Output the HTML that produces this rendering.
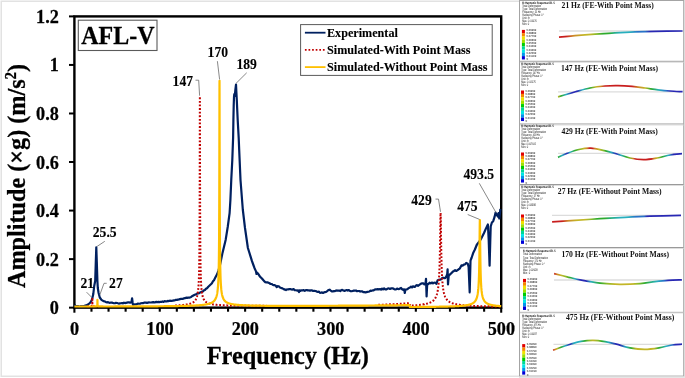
<!DOCTYPE html>
<html><head><meta charset="utf-8"><style>
html,body{margin:0;padding:0;background:#fff;}
body{width:685px;height:378px;overflow:hidden;position:relative;font-family:"Liberation Serif",serif;}
svg{position:absolute;left:0;top:0;will-change:transform;}
</style></head><body>
<svg width="685" height="378" viewBox="0 0 685 378">
<rect x="1.25" y="1.25" width="519" height="375" fill="none" stroke="#e2e2e2" stroke-width="1.5"/>
<rect x="74.40" y="16.40" width="426.80" height="291.25" fill="none" stroke="#000" stroke-width="2.4"/>
<line x1="74.40" y1="307.65" x2="74.40" y2="312.7" stroke="#000" stroke-width="2.1"/>
<line x1="91.47" y1="307.65" x2="91.47" y2="311.7" stroke="#000" stroke-width="2.1"/>
<line x1="108.54" y1="307.65" x2="108.54" y2="311.7" stroke="#000" stroke-width="2.1"/>
<line x1="125.62" y1="307.65" x2="125.62" y2="311.7" stroke="#000" stroke-width="2.1"/>
<line x1="142.69" y1="307.65" x2="142.69" y2="311.7" stroke="#000" stroke-width="2.1"/>
<line x1="159.76" y1="307.65" x2="159.76" y2="311.7" stroke="#000" stroke-width="2.1"/>
<line x1="176.83" y1="307.65" x2="176.83" y2="311.7" stroke="#000" stroke-width="2.1"/>
<line x1="193.90" y1="307.65" x2="193.90" y2="311.7" stroke="#000" stroke-width="2.1"/>
<line x1="210.98" y1="307.65" x2="210.98" y2="311.7" stroke="#000" stroke-width="2.1"/>
<line x1="228.05" y1="307.65" x2="228.05" y2="311.7" stroke="#000" stroke-width="2.1"/>
<line x1="245.12" y1="307.65" x2="245.12" y2="311.7" stroke="#000" stroke-width="2.1"/>
<line x1="262.19" y1="307.65" x2="262.19" y2="311.7" stroke="#000" stroke-width="2.1"/>
<line x1="279.26" y1="307.65" x2="279.26" y2="311.7" stroke="#000" stroke-width="2.1"/>
<line x1="296.34" y1="307.65" x2="296.34" y2="311.7" stroke="#000" stroke-width="2.1"/>
<line x1="313.41" y1="307.65" x2="313.41" y2="311.7" stroke="#000" stroke-width="2.1"/>
<line x1="330.48" y1="307.65" x2="330.48" y2="311.7" stroke="#000" stroke-width="2.1"/>
<line x1="347.55" y1="307.65" x2="347.55" y2="311.7" stroke="#000" stroke-width="2.1"/>
<line x1="364.62" y1="307.65" x2="364.62" y2="311.7" stroke="#000" stroke-width="2.1"/>
<line x1="381.70" y1="307.65" x2="381.70" y2="311.7" stroke="#000" stroke-width="2.1"/>
<line x1="398.77" y1="307.65" x2="398.77" y2="311.7" stroke="#000" stroke-width="2.1"/>
<line x1="415.84" y1="307.65" x2="415.84" y2="311.7" stroke="#000" stroke-width="2.1"/>
<line x1="432.91" y1="307.65" x2="432.91" y2="311.7" stroke="#000" stroke-width="2.1"/>
<line x1="449.98" y1="307.65" x2="449.98" y2="311.7" stroke="#000" stroke-width="2.1"/>
<line x1="467.06" y1="307.65" x2="467.06" y2="311.7" stroke="#000" stroke-width="2.1"/>
<line x1="484.13" y1="307.65" x2="484.13" y2="311.7" stroke="#000" stroke-width="2.1"/>
<line x1="501.20" y1="307.65" x2="501.20" y2="312.7" stroke="#000" stroke-width="2.1"/>
<line x1="69" y1="307.65" x2="74.40" y2="307.65" stroke="#000" stroke-width="2"/>
<line x1="69" y1="259.11" x2="74.40" y2="259.11" stroke="#000" stroke-width="2"/>
<line x1="69" y1="210.57" x2="74.40" y2="210.57" stroke="#000" stroke-width="2"/>
<line x1="69" y1="162.02" x2="74.40" y2="162.02" stroke="#000" stroke-width="2"/>
<line x1="69" y1="113.48" x2="74.40" y2="113.48" stroke="#000" stroke-width="2"/>
<line x1="69" y1="64.94" x2="74.40" y2="64.94" stroke="#000" stroke-width="2"/>
<line x1="69" y1="16.40" x2="74.40" y2="16.40" stroke="#000" stroke-width="2"/>
<text transform="translate(58.80,314.15) scale(1,1.030)" text-anchor="end" font-size="18.20" stroke-width="0.25" font-family="Liberation Serif" font-weight="bold" stroke="#000" >0</text>
<text transform="translate(58.80,265.61) scale(1,1.030)" text-anchor="end" font-size="18.20" stroke-width="0.25" font-family="Liberation Serif" font-weight="bold" stroke="#000" >0.2</text>
<text transform="translate(58.80,217.07) scale(1,1.030)" text-anchor="end" font-size="18.20" stroke-width="0.25" font-family="Liberation Serif" font-weight="bold" stroke="#000" >0.4</text>
<text transform="translate(58.80,168.52) scale(1,1.030)" text-anchor="end" font-size="18.20" stroke-width="0.25" font-family="Liberation Serif" font-weight="bold" stroke="#000" >0.6</text>
<text transform="translate(58.80,119.98) scale(1,1.030)" text-anchor="end" font-size="18.20" stroke-width="0.25" font-family="Liberation Serif" font-weight="bold" stroke="#000" >0.8</text>
<text transform="translate(58.80,71.44) scale(1,1.030)" text-anchor="end" font-size="18.20" stroke-width="0.25" font-family="Liberation Serif" font-weight="bold" stroke="#000" >1</text>
<text transform="translate(58.80,22.90) scale(1,1.030)" text-anchor="end" font-size="18.20" stroke-width="0.25" font-family="Liberation Serif" font-weight="bold" stroke="#000" >1.2</text>
<text transform="translate(74.60,334.60) scale(1,0.985)" text-anchor="middle" font-size="18.20" stroke-width="0.25" font-family="Liberation Serif" font-weight="bold" stroke="#000" >0</text>
<text transform="translate(159.96,334.60) scale(1,0.985)" text-anchor="middle" font-size="18.20" stroke-width="0.25" font-family="Liberation Serif" font-weight="bold" stroke="#000" >100</text>
<text transform="translate(245.32,334.60) scale(1,0.985)" text-anchor="middle" font-size="18.20" stroke-width="0.25" font-family="Liberation Serif" font-weight="bold" stroke="#000" >200</text>
<text transform="translate(330.68,334.60) scale(1,0.985)" text-anchor="middle" font-size="18.20" stroke-width="0.25" font-family="Liberation Serif" font-weight="bold" stroke="#000" >300</text>
<text transform="translate(416.04,334.60) scale(1,0.985)" text-anchor="middle" font-size="18.20" stroke-width="0.25" font-family="Liberation Serif" font-weight="bold" stroke="#000" >400</text>
<text transform="translate(501.40,334.60) scale(1,0.985)" text-anchor="middle" font-size="18.20" stroke-width="0.25" font-family="Liberation Serif" font-weight="bold" stroke="#000" >500</text>
<text transform="translate(287.80,364.10) scale(1,1.055)" text-anchor="middle" font-size="24.30" stroke-width="0.25" font-family="Liberation Serif" font-weight="bold" stroke="#000" >Frequency (Hz)</text>
<text transform="translate(25.4,288.0) rotate(-90) scale(1,1.07)" x="0" y="0" font-size="24.2" stroke-width="0.25" font-family="Liberation Serif" font-weight="bold" stroke="#000">Amplitude (×g) (m/s<tspan font-size="15" dy="-9">2</tspan><tspan dy="9">)</tspan></text>
<rect x="78.3" y="20.2" width="78.7" height="30.3" fill="#fff" stroke="#5a5a5a" stroke-width="1.1"/>
<text transform="translate(81.20,44.20) scale(1,1.045)" text-anchor="start" font-size="24.00" stroke-width="0.25" font-family="Liberation Serif" font-weight="bold" stroke="#000" >AFL-V</text>
<path d="M74.50,304.80 L76.00,306.20 L77.00,306.15 L78.00,306.11 L79.00,306.53 L80.00,306.50 L81.00,306.10 L82.00,306.33 L83.00,306.11 L84.00,306.10 L86.00,305.40 L88.00,304.40 L89.50,303.30 L90.50,302.40 L92.00,299.50 L93.30,294.00 L94.20,286.00 L94.70,283.50 L95.20,281.00 L95.80,262.00 L96.30,247.40 L96.80,262.00 L97.40,281.00 L97.80,288.00 L98.60,293.00 L99.80,297.50 L101.50,299.80 L103.50,301.20 L104.75,301.39 L106.00,302.20 L107.00,302.36 L108.00,302.18 L109.00,302.60 L110.00,302.80 L111.00,302.56 L112.00,302.63 L113.00,302.93 L114.00,303.27 L115.00,303.10 L116.00,302.88 L117.00,302.99 L118.00,303.31 L119.00,303.57 L120.00,303.30 L121.00,303.27 L122.00,303.06 L123.00,303.38 L124.00,302.65 L125.00,303.13 L126.00,302.80 L127.00,302.60 L128.00,302.45 L129.00,302.38 L130.00,302.60 L131.40,302.40 L132.10,298.30 L132.60,302.50 L133.00,304.80 L134.00,304.60 L135.00,304.27 L136.00,304.42 L137.00,304.00 L138.00,303.62 L139.00,303.74 L140.00,303.62 L141.00,303.27 L142.00,303.20 L143.00,303.15 L144.00,302.72 L145.00,302.63 L146.00,302.64 L147.00,302.89 L148.00,302.62 L149.00,302.46 L150.00,302.50 L151.05,302.49 L152.10,302.33 L153.15,302.15 L154.20,302.43 L155.25,302.29 L156.30,301.90 L157.35,302.06 L158.40,301.96 L159.45,302.13 L160.50,301.80 L161.53,301.87 L162.56,301.47 L163.59,301.87 L164.62,301.17 L165.65,301.29 L166.68,301.44 L167.71,300.93 L168.74,301.07 L169.77,300.67 L170.80,300.90 L171.82,300.82 L172.84,300.69 L173.86,300.35 L174.88,300.36 L175.90,299.77 L176.92,299.84 L177.94,299.57 L178.96,299.36 L179.98,299.07 L181.00,298.90 L182.02,298.94 L183.04,298.81 L184.06,298.28 L185.08,298.21 L186.10,297.59 L187.12,297.84 L188.14,297.60 L189.16,297.65 L190.18,297.33 L191.20,296.90 L192.47,295.98 L193.73,295.29 L195.00,294.60 L196.00,294.37 L197.00,293.57 L198.00,293.52 L199.00,293.20 L200.30,292.37 L201.60,291.73 L202.90,291.40 L203.93,290.32 L204.95,290.04 L205.97,288.82 L207.00,288.30 L208.30,286.79 L209.60,285.56 L210.90,284.30 L211.93,283.19 L212.97,281.27 L214.00,280.20 L215.07,278.10 L216.13,276.10 L217.20,274.00 L218.50,270.32 L219.80,266.10 L222.50,252.90 L225.70,239.70 L227.80,226.50 L229.60,213.20 L230.40,200.00 L231.30,179.00 L232.30,160.00 L233.10,138.00 L233.40,120.00 L233.70,106.00 L234.00,97.00 L234.30,94.00 L234.80,96.00 L235.30,90.50 L236.00,84.60 L236.40,92.50 L236.80,100.00 L237.10,107.00 L237.70,120.00 L238.70,138.00 L239.20,150.00 L240.50,180.00 L242.80,209.50 L245.00,228.00 L247.90,248.00 L250.60,256.60 L251.90,260.93 L253.20,264.50 L254.55,268.24 L255.90,271.10 L256.50,274.00 L257.00,272.50 L258.40,274.18 L259.80,276.40 L260.87,277.43 L261.93,278.50 L263.00,279.80 L264.13,281.13 L265.27,282.08 L266.40,282.40 L267.45,282.38 L268.50,282.81 L269.55,283.28 L270.60,284.00 L271.62,284.02 L272.64,284.66 L273.66,285.13 L274.68,285.08 L275.70,285.70 L276.70,287.20 L277.50,286.20 L278.75,286.25 L280.00,287.50 L281.23,287.93 L282.45,288.39 L283.67,289.15 L284.90,289.60 L285.95,290.04 L287.00,289.40 L288.07,289.50 L289.13,289.15 L290.20,289.00 L291.33,289.33 L292.46,289.58 L293.59,289.02 L294.71,290.22 L295.84,290.26 L296.97,290.56 L298.10,290.30 L299.00,292.00 L299.60,290.40 L300.64,290.80 L301.68,290.36 L302.72,290.42 L303.75,290.11 L304.79,290.79 L305.83,290.15 L306.87,290.20 L307.91,290.42 L308.95,290.41 L309.98,290.67 L311.02,290.37 L312.06,290.35 L313.10,291.00 L314.33,290.83 L315.55,291.02 L316.77,291.59 L318.00,292.00 L319.00,291.63 L320.00,292.85 L321.00,292.74 L322.00,292.38 L323.00,293.00 L324.00,292.37 L325.00,292.15 L326.00,292.00 L327.20,291.07 L328.40,290.01 L329.60,289.70 L330.70,290.65 L331.80,291.36 L332.90,291.30 L333.95,291.17 L335.00,291.10 L336.05,290.53 L337.10,290.46 L338.15,290.66 L339.20,290.48 L340.25,291.06 L341.30,290.17 L342.35,289.92 L343.40,290.40 L344.45,290.98 L345.49,290.51 L346.54,290.10 L347.59,290.61 L348.63,290.03 L349.68,290.67 L350.73,291.25 L351.77,291.16 L352.82,291.00 L353.87,290.51 L354.91,290.68 L355.96,290.48 L357.01,291.25 L358.05,291.00 L359.10,291.00 L360.16,291.55 L361.22,291.24 L362.28,291.33 L363.34,292.25 L364.40,292.10 L365.42,292.49 L366.44,292.15 L367.47,291.90 L368.49,291.73 L369.51,291.44 L370.53,290.64 L371.56,290.80 L372.58,290.42 L373.60,290.40 L374.67,289.60 L375.73,289.37 L376.80,289.44 L377.87,289.18 L378.93,289.46 L380.00,289.00 L381.02,289.67 L382.05,288.61 L383.08,289.34 L384.10,288.40 L385.28,289.40 L386.46,289.46 L387.64,288.52 L388.82,288.38 L390.00,289.00 L391.00,288.46 L392.00,288.35 L393.00,288.32 L394.00,289.02 L395.00,289.47 L396.00,289.31 L397.00,288.61 L398.00,288.88 L399.00,289.09 L400.00,288.50 L401.05,287.95 L402.10,289.19 L403.15,289.84 L404.20,289.30 L404.80,293.00 L405.40,289.50 L406.55,289.51 L407.70,288.95 L408.85,287.96 L410.00,287.50 L411.00,286.61 L412.00,287.40 L413.00,286.27 L414.00,286.80 L415.00,286.80 L416.00,285.45 L417.00,285.15 L418.00,285.82 L419.00,285.11 L420.00,284.40 L421.10,283.63 L422.20,283.37 L423.30,283.23 L424.40,284.41 L425.50,283.50 L426.00,278.90 L426.60,296.50 L427.20,284.00 L428.40,284.18 L429.60,282.61 L430.80,283.46 L432.00,282.50 L433.00,283.36 L434.00,282.78 L435.00,282.50 L436.50,283.80 L437.50,280.50 L438.75,279.83 L440.00,279.70 L441.00,279.39 L442.00,278.24 L443.00,277.63 L444.00,278.10 L445.15,278.15 L446.30,276.50 L447.20,274.00 L447.60,269.40 L448.00,284.40 L448.70,275.70 L450.30,274.10 L451.50,273.17 L452.70,271.70 L453.90,271.00 L455.10,270.20 L456.30,270.98 L457.50,270.20 L458.65,269.28 L459.80,268.60 L461.40,265.40 L462.60,265.67 L463.80,264.60 L465.00,264.39 L466.20,263.00 L467.80,263.80 L468.60,267.00 L469.70,292.40 L470.50,260.60 L471.70,257.50 L473.30,252.70 L474.90,249.50 L476.70,245.00 L478.60,242.30 L480.60,239.70 L482.00,237.00 L484.00,233.00 L486.00,228.40 L487.90,224.50 L488.70,240.00 L489.60,265.70 L490.30,240.00 L490.70,226.50 L491.90,222.50 L493.20,221.20 L494.50,217.20 L495.60,212.60 L496.50,214.50 L497.80,216.50 L498.50,213.20 L499.30,218.50 L500.40,209.00" fill="none" stroke="#002060" stroke-width="2.2" stroke-linejoin="round"/>
<path d="M87.20,306.33 L87.21,306.33 L87.28,306.33 L87.34,306.33 L87.40,306.33 L87.47,306.33 L87.53,306.33 L87.59,306.33 L87.63,306.33 L87.65,306.33 L87.72,306.33 L87.78,306.33 L87.84,306.33 L87.90,306.33 L87.96,306.32 L88.02,306.32 L88.06,306.32 L88.08,306.32 L88.14,306.32 L88.19,306.32 L88.25,306.32 L88.31,306.32 L88.37,306.32 L88.42,306.32 L88.48,306.32 L88.48,306.32 L88.54,306.32 L88.59,306.32 L88.65,306.31 L88.70,306.31 L88.76,306.31 L88.81,306.31 L88.86,306.31 L88.91,306.31 L88.92,306.31 L88.97,306.31 L89.02,306.31 L89.07,306.31 L89.12,306.30 L89.18,306.30 L89.23,306.30 L89.28,306.30 L89.33,306.30 L89.34,306.30 L89.38,306.30 L89.42,306.30 L89.47,306.30 L89.52,306.29 L89.57,306.29 L89.62,306.29 L89.66,306.29 L89.71,306.29 L89.76,306.29 L89.76,306.29 L89.80,306.29 L89.85,306.28 L89.89,306.28 L89.94,306.28 L89.98,306.28 L90.02,306.28 L90.07,306.27 L90.11,306.27 L90.15,306.27 L90.19,306.27 L90.19,306.27 L90.24,306.27 L90.28,306.26 L90.32,306.26 L90.36,306.26 L90.40,306.26 L90.44,306.25 L90.48,306.25 L90.52,306.25 L90.55,306.25 L90.59,306.24 L90.62,306.24 L90.63,306.24 L90.67,306.24 L90.70,306.23 L90.74,306.23 L90.77,306.23 L90.81,306.23 L90.85,306.22 L90.88,306.22 L90.91,306.21 L90.95,306.21 L90.98,306.21 L91.01,306.20 L91.05,306.20 L91.05,306.20 L91.08,306.19 L91.11,306.19 L91.14,306.18 L91.17,306.18 L91.20,306.17 L91.23,306.17 L91.26,306.16 L91.29,306.16 L91.32,306.15 L91.35,306.14 L91.38,306.14 L91.41,306.13 L91.43,306.12 L91.46,306.11 L91.47,306.11 L91.49,306.11 L91.51,306.10 L91.54,306.09 L91.56,306.08 L91.59,306.07 L91.61,306.06 L91.64,306.05 L91.66,306.04 L91.68,306.02 L91.71,306.01 L91.73,306.00 L91.75,305.98 L91.77,305.97 L91.79,305.95 L91.81,305.94 L91.83,305.92 L91.85,305.90 L91.87,305.88 L91.89,305.86 L91.90,305.85 L91.91,305.83 L91.93,305.81 L91.95,305.78 L91.96,305.75 L91.98,305.72 L92.00,305.69 L92.01,305.66 L92.03,305.62 L92.05,305.58 L92.06,305.53 L92.07,305.48 L92.09,305.43 L92.10,305.37 L92.12,305.31 L92.13,305.24 L92.14,305.17 L92.15,305.09 L92.16,305.00 L92.18,304.89 L92.19,304.78 L92.20,304.66 L92.21,304.52 L92.22,304.36 L92.23,304.19 L92.24,303.99 L92.24,303.77 L92.25,303.51 L92.26,303.23 L92.27,302.91 L92.27,302.54 L92.28,302.13 L92.29,301.67 L92.29,301.18 L92.30,300.65 L92.30,300.09 L92.31,299.55 L92.31,299.04 L92.31,298.60 L92.32,298.25 L92.32,297.98 L92.32,297.81 L92.32,297.71 L92.32,297.66 L92.32,297.64 L92.33,297.64 L92.33,297.64 L92.33,297.64 L92.33,297.64 L92.33,297.66 L92.33,297.71 L92.33,297.81 L92.33,297.98 L92.34,298.25 L92.34,298.60 L92.34,299.04 L92.35,299.56 L92.35,300.10 L92.36,300.66 L92.36,301.19 L92.37,301.68 L92.37,302.14 L92.38,302.55 L92.38,302.91 L92.39,303.24 L92.40,303.52 L92.41,303.78 L92.42,304.00 L92.42,304.20 L92.43,304.37 L92.44,304.53 L92.45,304.67 L92.46,304.79 L92.47,304.91 L92.49,305.01 L92.50,305.10 L92.51,305.18 L92.52,305.26 L92.54,305.32 L92.55,305.39 L92.56,305.44 L92.58,305.50 L92.59,305.54 L92.61,305.59 L92.62,305.63 L92.64,305.67 L92.65,305.70 L92.67,305.73 L92.69,305.76 L92.70,305.79 L92.72,305.82 L92.74,305.84 L92.75,305.86 L92.76,305.87 L92.78,305.89 L92.80,305.91 L92.82,305.93 L92.84,305.95 L92.86,305.96 L92.88,305.98 L92.90,305.99 L92.92,306.01 L92.95,306.02 L92.97,306.03 L92.99,306.05 L93.01,306.06 L93.04,306.07 L93.06,306.08 L93.09,306.09 L93.11,306.10 L93.14,306.11 L93.16,306.12 L93.18,306.12 L93.19,306.12 L93.22,306.13 L93.25,306.14 L93.27,306.15 L93.30,306.15 L93.33,306.16 L93.36,306.16 L93.39,306.17 L93.42,306.18 L93.45,306.18 L93.48,306.19 L93.51,306.19 L93.54,306.20 L93.57,306.20 L93.60,306.21 L93.61,306.21 L93.64,306.21 L93.67,306.21 L93.70,306.22 L93.74,306.22 L93.77,306.23 L93.81,306.23 L93.84,306.23 L93.88,306.24 L93.91,306.24 L93.95,306.24 L93.98,306.25 L94.02,306.25 L94.03,306.25 L94.06,306.25 L94.10,306.25 L94.14,306.26 L94.17,306.26 L94.21,306.26 L94.25,306.26 L94.29,306.27 L94.33,306.27 L94.37,306.27 L94.42,306.27 L94.46,306.27 L94.46,306.27 L94.50,306.28 L94.54,306.28 L94.58,306.28 L94.63,306.28 L94.67,306.28 L94.72,306.29 L94.76,306.29 L94.80,306.29 L94.85,306.29 L94.89,306.29 L94.90,306.29 L94.94,306.29 L94.99,306.29 L95.03,306.30 L95.08,306.30 L95.13,306.30 L95.18,306.30 L95.23,306.30 L95.28,306.30 L95.31,306.30 L95.32,306.30 L95.37,306.30 L95.43,306.31 L95.48,306.31 L95.53,306.31 L95.58,306.31 L95.63,306.31 L95.68,306.31 L95.73,306.31 L95.74,306.31 L95.79,306.31 L95.84,306.31 L95.90,306.31 L95.95,306.31 L96.00,306.32 L96.06,306.32 L96.11,306.32 L96.17,306.32 L96.17,306.32 L96.23,306.32 L96.28,306.32 L96.34,306.32 L96.40,306.32 L96.46,306.32 L96.51,306.32 L96.57,306.32 L96.59,306.32 L96.63,306.32 L96.69,306.32 L96.75,306.32 L96.81,306.32 L96.87,306.33 L96.94,306.33 L97.00,306.33 L97.02,306.33 L97.06,306.33 L97.12,306.33 L97.18,306.33 L97.25,306.33 L97.31,306.33 L97.38,306.33 L97.44,306.33 L97.45,306.33 L97.50,306.33 L97.57,306.33 L97.64,306.33 L97.70,306.33 L97.77,306.33 L97.84,306.33 L97.87,306.33 L97.90,306.33 L97.97,306.33 L98.04,306.33 L98.11,306.33 L98.18,306.33 L98.25,306.33 L98.30,306.33 L98.32,306.33 L98.39,306.33 L98.46,306.33 L98.53,306.34 L98.60,306.34 L98.67,306.34 L98.73,306.34 L98.74,306.34 L98.82,306.34 L98.89,306.34 L98.96,306.34 L99.04,306.34 L99.11,306.34 L99.15,306.34 L99.19,306.34 L99.26,306.34 L99.34,306.34 L99.41,306.34 L99.49,306.34 L99.57,306.34 L99.58,306.34 L99.64,306.34 L99.72,306.34 L99.80,306.34 L99.88,306.34 L99.96,306.34 L100.01,306.34 M175.12,305.50 L175.21,305.50 L175.35,305.49 L175.50,305.48 L175.55,305.48 L175.64,305.48 L175.78,305.47 L175.92,305.46 L175.98,305.46 L176.06,305.46 L176.20,305.45 L176.34,305.44 L176.41,305.44 L176.47,305.43 L176.61,305.43 L176.75,305.42 L176.83,305.42 L176.89,305.41 L177.03,305.41 L177.16,305.40 L177.26,305.39 L177.30,305.39 L177.43,305.38 L177.57,305.37 L177.69,305.37 L177.70,305.37 L177.84,305.36 L177.97,305.35 L178.11,305.34 L178.11,305.34 L178.24,305.33 L178.37,305.33 L178.51,305.32 L178.54,305.32 L178.64,305.31 L178.77,305.30 L178.90,305.29 L178.97,305.29 L179.03,305.28 L179.16,305.27 L179.29,305.27 L179.39,305.26 L179.42,305.26 L179.55,305.25 L179.68,305.24 L179.81,305.23 L179.82,305.23 L179.94,305.22 L180.06,305.21 L180.19,305.20 L180.25,305.20 L180.32,305.19 L180.44,305.18 L180.57,305.17 L180.67,305.17 L180.70,305.16 L180.82,305.15 L180.95,305.14 L181.07,305.13 L181.10,305.13 L181.19,305.12 L181.32,305.11 L181.44,305.10 L181.53,305.10 L181.56,305.09 L181.69,305.08 L181.81,305.07 L181.93,305.06 L181.95,305.06 L182.05,305.05 L182.17,305.04 L182.29,305.03 L182.38,305.02 L182.41,305.02 L182.53,305.00 L182.65,304.99 L182.77,304.98 L182.81,304.98 L182.89,304.97 L183.00,304.96 L183.12,304.95 L183.23,304.93 L183.24,304.93 L183.36,304.92 L183.47,304.91 L183.59,304.90 L183.66,304.89 L183.70,304.88 L183.82,304.87 L183.93,304.86 L184.05,304.85 L184.09,304.84 L184.16,304.83 L184.27,304.82 L184.39,304.81 L184.50,304.79 L184.51,304.79 L184.61,304.78 L184.72,304.76 L184.83,304.75 L184.94,304.74 L184.94,304.74 L185.06,304.72 L185.17,304.71 L185.27,304.69 L185.37,304.68 L185.38,304.68 L185.49,304.66 L185.60,304.65 L185.71,304.63 L185.79,304.62 L185.82,304.62 L185.92,304.60 L186.03,304.59 L186.14,304.57 L186.22,304.56 L186.24,304.55 L186.35,304.54 L186.45,304.52 L186.56,304.50 L186.65,304.49 L186.66,304.49 L186.77,304.47 L186.87,304.45 L186.97,304.43 L187.08,304.42 L187.18,304.40 L187.28,304.38 L187.38,304.36 L187.48,304.34 L187.50,304.34 L187.58,304.32 L187.68,304.30 L187.78,304.28 L187.88,304.26 L187.93,304.26 L187.98,304.24 L188.08,304.22 L188.18,304.20 L188.27,304.18 L188.36,304.17 L188.37,304.16 L188.47,304.14 L188.57,304.12 L188.66,304.10 L188.76,304.08 L188.78,304.07 L188.85,304.05 L188.95,304.03 L189.04,304.01 L189.14,303.98 L189.21,303.97 L189.23,303.96 L189.32,303.94 L189.42,303.91 L189.51,303.89 L189.60,303.86 L189.64,303.85 L189.69,303.84 L189.78,303.81 L189.87,303.79 L189.96,303.76 L190.05,303.73 L190.06,303.73 L190.14,303.71 L190.23,303.68 L190.32,303.65 L190.41,303.62 L190.49,303.60 L190.50,303.60 L190.58,303.57 L190.67,303.54 L190.76,303.51 L190.84,303.48 L190.92,303.45 L190.93,303.45 L191.02,303.42 L191.10,303.39 L191.19,303.35 L191.27,303.32 L191.34,303.29 L191.35,303.29 L191.44,303.26 L191.52,303.22 L191.60,303.19 L191.68,303.15 L191.77,303.12 L191.77,303.12 L191.85,303.08 L191.93,303.05 L192.01,303.01 L192.09,302.97 L192.17,302.93 L192.20,302.92 L192.25,302.89 L192.33,302.85 L192.41,302.81 L192.48,302.77 L192.56,302.73 L192.62,302.70 L192.64,302.69 L192.72,302.65 L192.79,302.61 L192.87,302.56 L192.94,302.52 L193.02,302.47 L193.05,302.45 L193.09,302.43 L193.17,302.38 L193.24,302.33 L193.32,302.28 L193.39,302.23 L193.46,302.18 L193.48,302.17 L193.53,302.13 L193.61,302.08 L193.68,302.03 L193.75,301.97 L193.82,301.92 L193.89,301.86 L193.90,301.85 L193.96,301.81 L194.03,301.75 L194.10,301.69 L194.17,301.63 L194.23,301.56 L194.30,301.50 L194.33,301.47 L194.37,301.43 L194.44,301.37 L194.50,301.30 L194.57,301.23 L194.63,301.16 L194.70,301.09 L194.76,301.03 L194.76,301.02 L194.83,300.95 L194.89,300.87 L194.96,300.80 L195.02,300.72 L195.08,300.64 L195.15,300.56 L195.18,300.51 L195.21,300.48 L195.27,300.40 L195.33,300.31 L195.39,300.22 L195.45,300.14 L195.51,300.04 L195.57,299.95 L195.61,299.89 L195.63,299.86 L195.69,299.76 L195.75,299.66 L195.81,299.56 L195.86,299.46 L195.92,299.36 L195.98,299.25 L196.03,299.14 L196.04,299.13 L196.09,299.03 L196.15,298.92 L196.20,298.80 L196.26,298.68 L196.31,298.56 L196.36,298.44 L196.42,298.31 L196.46,298.19 L196.47,298.18 L196.52,298.05 L196.57,297.91 L196.63,297.77 L196.68,297.63 L196.73,297.48 L196.78,297.33 L196.83,297.18 L196.88,297.02 L196.89,296.98 L196.93,296.86 L196.98,296.70 L197.03,296.53 L197.07,296.35 L197.12,296.17 L197.17,295.99 L197.22,295.81 L197.26,295.61 L197.31,295.42 L197.32,295.38 L197.36,295.21 L197.40,295.01 L197.45,294.79 L197.49,294.57 L197.53,294.35 L197.58,294.12 L197.62,293.88 L197.66,293.63 L197.71,293.38 L197.75,293.14 L197.75,293.12 L197.79,292.85 L197.83,292.58 L197.87,292.29 L197.91,292.00 L197.95,291.70 L197.99,291.39 L198.03,291.07 L198.07,290.74 L198.11,290.40 L198.15,290.05 L198.17,289.79 L198.18,289.68 L198.22,289.31 L198.26,288.92 L198.29,288.52 L198.33,288.11 L198.36,287.68 L198.40,287.23 L198.43,286.77 L198.47,286.30 L198.50,285.81 L198.54,285.29 L198.57,284.77 L198.60,284.25 L198.60,284.22 L198.63,283.65 L198.66,283.05 L198.70,282.44 L198.73,281.80 L198.76,281.14 L198.79,280.45 L198.82,279.73 L198.85,278.98 L198.88,278.20 L198.90,277.39 L198.93,276.54 L198.96,275.66 L198.99,274.73 L199.01,273.77 L199.03,273.33 L199.04,272.77 L199.07,271.72 L199.09,270.62 L199.12,269.46 L199.14,268.26 L199.17,266.99 L199.19,265.67 L199.21,264.29 L199.24,262.82 L199.26,261.29 L199.28,259.68 L199.30,258.00 L199.33,256.22 L199.35,254.34 L199.37,252.37 L199.39,250.30 L199.41,248.12 L199.43,245.81 L199.45,243.37 L199.45,242.47 L199.46,240.81 L199.48,238.10 L199.50,235.25 L199.52,232.24 L199.53,229.05 L199.55,225.70 L199.57,222.16 L199.58,218.45 L199.60,214.53 L199.61,210.39 L199.63,206.08 L199.64,201.54 L199.66,196.83 L199.67,191.90 L199.68,186.74 L199.69,181.46 L199.71,175.99 L199.72,170.43 L199.73,164.75 L199.74,158.98 L199.75,153.25 L199.76,147.53 L199.77,141.97 L199.78,136.53 L199.79,131.28 L199.80,126.38 L199.81,121.77 L199.81,117.59 L199.82,113.79 L199.83,110.39 L199.83,107.47 L199.84,104.96 L199.84,102.89 L199.85,101.19 L199.85,99.81 L199.86,98.76 L199.86,97.97 L199.87,97.40 L199.87,97.01 L199.87,96.74 L199.87,96.58 L199.88,96.50 L199.88,96.46 L199.88,96.44 L199.88,96.44 L199.88,96.44 L199.88,96.44 L199.88,96.44 L199.88,96.46 L199.88,96.50 L199.88,96.58 L199.89,96.74 L199.89,97.01 L199.89,97.40 L199.90,97.96 L199.90,98.76 L199.90,99.81 L199.91,101.19 L199.91,102.89 L199.92,104.96 L199.93,107.48 L199.93,110.39 L199.94,113.80 L199.95,117.61 L199.95,121.79 L199.96,126.40 L199.97,131.32 L199.98,136.58 L199.99,142.02 L200.00,147.59 L200.01,153.32 L200.02,159.06 L200.03,164.84 L200.04,170.53 L200.05,176.09 L200.06,181.57 L200.08,186.86 L200.09,192.02 L200.10,196.96 L200.12,201.68 L200.13,206.23 L200.14,210.54 L200.16,214.69 L200.18,218.61 L200.19,222.32 L200.21,225.87 L200.22,229.22 L200.24,232.41 L200.26,235.43 L200.28,238.28 L200.29,240.99 L200.31,242.66 L200.31,243.55 L200.33,245.99 L200.35,248.30 L200.37,250.48 L200.39,252.56 L200.41,254.53 L200.43,256.41 L200.45,258.19 L200.48,259.87 L200.50,261.49 L200.52,263.01 L200.54,264.48 L200.57,265.87 L200.59,267.19 L200.62,268.45 L200.64,269.65 L200.67,270.81 L200.69,271.91 L200.72,272.96 L200.73,273.52 L200.74,273.96 L200.77,274.92 L200.80,275.85 L200.83,276.73 L200.85,277.57 L200.88,278.39 L200.91,279.16 L200.94,279.91 L200.97,280.63 L201.00,281.32 L201.03,281.98 L201.06,282.62 L201.09,283.24 L201.13,283.83 L201.16,284.39 L201.16,284.43 L201.19,284.94 L201.22,285.47 L201.26,285.98 L201.29,286.47 L201.32,286.95 L201.36,287.41 L201.39,287.85 L201.43,288.28 L201.47,288.69 L201.50,289.09 L201.54,289.48 L201.58,289.85 L201.59,289.96 L201.61,290.21 L201.65,290.56 L201.69,290.90 L201.73,291.23 L201.77,291.55 L201.81,291.86 L201.85,292.16 L201.89,292.45 L201.93,292.73 L201.97,293.01 L202.01,293.27 L202.01,293.29 L202.05,293.53 L202.09,293.78 L202.14,294.02 L202.18,294.26 L202.22,294.49 L202.27,294.72 L202.31,294.93 L202.36,295.15 L202.40,295.35 L202.44,295.51 L202.45,295.55 L202.50,295.75 L202.54,295.94 L202.59,296.12 L202.64,296.30 L202.68,296.48 L202.73,296.65 L202.78,296.82 L202.83,296.98 L202.87,297.10 L202.88,297.14 L202.93,297.30 L202.98,297.45 L203.03,297.60 L203.08,297.74 L203.13,297.88 L203.18,298.02 L203.24,298.15 L203.29,298.29 L203.29,298.30 L203.34,298.41 L203.39,298.54 L203.45,298.66 L203.50,298.78 L203.56,298.90 L203.61,299.01 L203.67,299.12 L203.72,299.23 L203.72,299.23 L203.78,299.34 L203.84,299.44 L203.89,299.55 L203.95,299.65 L204.01,299.75 L204.07,299.84 L204.13,299.94 L204.15,299.97 L204.19,300.03 L204.25,300.12 L204.31,300.21 L204.37,300.29 L204.43,300.38 L204.49,300.46 L204.55,300.54 L204.57,300.57 L204.61,300.62 L204.67,300.70 L204.74,300.78 L204.80,300.85 L204.86,300.93 L204.93,301.00 L204.99,301.07 L205.00,301.08 L205.06,301.14 L205.12,301.21 L205.19,301.27 L205.26,301.34 L205.32,301.40 L205.39,301.47 L205.43,301.50 L205.46,301.53 L205.52,301.59 L205.59,301.65 L205.66,301.71 L205.73,301.77 L205.80,301.82 L205.85,301.87 L205.87,301.88 L205.94,301.93 L206.01,301.99 L206.08,302.04 L206.15,302.09 L206.23,302.14 L206.28,302.18 L206.30,302.19 L206.37,302.24 L206.44,302.29 L206.52,302.34 L206.59,302.39 L206.67,302.43 L206.71,302.46 L206.74,302.48 L206.82,302.52 L206.89,302.57 L206.97,302.61 L207.04,302.65 L207.12,302.69 L207.13,302.70 L207.20,302.73 L207.27,302.77 L207.35,302.81 L207.43,302.85 L207.51,302.89 L207.56,302.92 L207.59,302.93 L207.67,302.97 L207.75,303.00 L207.83,303.04 L207.91,303.07 L207.99,303.11 L207.99,303.11 L208.07,303.14 L208.16,303.18 L208.24,303.21 L208.32,303.24 L208.40,303.28 L208.42,303.28 L208.49,303.31 L208.57,303.34 L208.66,303.37 L208.74,303.40 L208.83,303.43 L208.84,303.44 L208.91,303.46 L209.00,303.49 L209.09,303.52 L209.17,303.55 L209.26,303.57 L209.27,303.58 L209.35,303.60 L209.44,303.63 L209.53,303.65 L209.62,303.68 L209.70,303.70 L209.70,303.71 L209.79,303.73 L209.88,303.76 L209.98,303.78 L210.07,303.81 L210.12,303.82 L210.16,303.83 L210.25,303.85 L210.34,303.88 L210.44,303.90 L210.53,303.92 L210.55,303.93 L210.62,303.95 L210.72,303.97 L210.81,303.99 L210.91,304.01 L210.98,304.03 L211.00,304.03 L211.10,304.05 L211.19,304.07 L211.29,304.09 L211.39,304.12 L211.40,304.12 L211.48,304.13 L211.58,304.15 L211.68,304.17 L211.78,304.19 L211.83,304.20 L211.88,304.21 L211.98,304.23 L212.08,304.25 L212.18,304.27 L212.26,304.28 L212.28,304.28 L212.38,304.30 L212.48,304.32 L212.58,304.34 L212.68,304.35 L212.79,304.37 L212.89,304.39 L212.99,304.40 L213.10,304.42 L213.11,304.42 L213.20,304.43 L213.31,304.45 L213.41,304.47 L213.52,304.48 L213.54,304.48 L213.62,304.50 L213.73,304.51 L213.83,304.53 L213.94,304.54 L213.96,304.54 L214.05,304.55 L214.16,304.57 L214.27,304.58 L214.37,304.60 L214.39,304.60 L214.48,304.61 L214.59,304.62 L214.70,304.64 L214.81,304.65 L214.82,304.65 L214.92,304.66 L215.04,304.68 L215.15,304.69 L215.24,304.70 L215.26,304.70 L215.37,304.71 L215.48,304.72 L215.60,304.74 L215.67,304.74 L215.71,304.75 L215.83,304.76 L215.94,304.77 L216.06,304.78 L216.10,304.79 L216.17,304.79 L216.29,304.81 L216.40,304.82 L216.52,304.83 L216.52,304.83 L216.64,304.84 L216.75,304.85 L216.87,304.86 L216.95,304.87 L216.99,304.87 L217.11,304.88 L217.23,304.89 L217.35,304.90 L217.38,304.90 L217.47,304.91 L217.59,304.92 L217.71,304.93 L217.80,304.94 L217.83,304.94 L217.95,304.95 L218.07,304.96 L218.19,304.97 L218.23,304.97 L218.32,304.98 L218.44,304.98 L218.56,304.99 L218.66,305.00 L218.69,305.00 L218.81,305.01 L218.94,305.02 L219.06,305.03 L219.09,305.03 L219.19,305.04 L219.31,305.04 L219.44,305.05 L219.51,305.06 L219.57,305.06 L219.69,305.07 L219.82,305.08 L219.94,305.08 L219.95,305.08 L220.08,305.09 L220.21,305.10 L220.34,305.11 L220.37,305.11 L220.47,305.11 L220.60,305.12 L220.73,305.13 L220.79,305.13 L220.86,305.14 L220.99,305.14 L221.12,305.15 L221.22,305.16 L221.25,305.16 L221.38,305.16 L221.52,305.17 L221.65,305.18 L221.65,305.18 L221.79,305.18 L221.92,305.19 L222.05,305.20 L222.07,305.20 L222.19,305.20 L222.32,305.21 L222.46,305.22 L222.50,305.22 L222.60,305.22 L222.73,305.23 L222.87,305.23 L222.93,305.24 L223.01,305.24 L223.15,305.25 L223.28,305.25 L223.35,305.25 L223.42,305.26 L223.56,305.26 L223.70,305.27 L223.78,305.27 L223.84,305.27 L223.98,305.28 L224.12,305.28 L224.21,305.29 L224.26,305.29 L224.40,305.29 L224.55,305.30 L224.63,305.30 L224.69,305.30 L224.83,305.31 L224.98,305.31 L225.06,305.32 L225.12,305.32 L225.26,305.32 L225.41,305.33 L225.49,305.33 L225.55,305.33 L225.70,305.34 L225.84,305.34 L225.91,305.35 L225.99,305.35 L226.14,305.35 L226.28,305.36 L226.34,305.36 L226.43,305.36 L226.58,305.37 L226.73,305.37 L226.77,305.37 L226.87,305.37 L227.02,305.38 L227.17,305.38 L227.19,305.38 L227.32,305.39 L227.47,305.39 L227.62,305.39 L227.62,305.39 L227.77,305.40 L227.93,305.40 L228.05,305.41 L228.08,305.41 L228.23,305.41 L228.38,305.41 L228.47,305.42 L228.53,305.42 L228.69,305.42 L228.84,305.42 L228.90,305.43 L229.00,305.43 L229.15,305.43 L229.31,305.43 L229.33,305.44 L229.46,305.44 L229.62,305.44 L229.76,305.44 L229.77,305.44 L229.93,305.45 L230.09,305.45 L230.18,305.45 L230.25,305.45 L230.40,305.46 L230.56,305.46 L230.61,305.46 L230.72,305.46 L230.88,305.47 L231.04,305.47 L231.04,305.47 L231.20,305.47 L231.36,305.48 L231.46,305.48 L231.52,305.48 L231.68,305.48 L231.84,305.48 L231.89,305.48 L232.01,305.49 L232.17,305.49 L232.32,305.49 L232.33,305.49 L232.49,305.49 L232.66,305.50 L232.74,305.50 L233.17,305.50 L233.60,305.51 L234.02,305.52 L234.45,305.52 L234.88,305.53 L235.30,305.53 L235.73,305.54 L236.16,305.54 L236.58,305.55 L237.01,305.55 L237.44,305.56 L237.86,305.56 L238.29,305.57 L238.72,305.57 L239.14,305.58 L239.57,305.58 L240.00,305.58 L240.43,305.59 L240.85,305.59 L241.28,305.60 L241.71,305.60 L242.13,305.60 L242.56,305.61 L242.99,305.61 L243.41,305.61 L243.84,305.61 L244.27,305.62 L244.69,305.62 L245.12,305.62 L245.55,305.62 L245.97,305.63 L246.40,305.63 L246.83,305.63 L247.25,305.63 L247.68,305.63 L248.11,305.64 L248.53,305.64 L248.96,305.64 L249.39,305.64 L249.81,305.64 L250.24,305.64 L250.67,305.64 L251.10,305.64 L251.52,305.65 L251.95,305.65 L252.38,305.65 L252.80,305.65 L253.23,305.65 L253.66,305.65 L254.08,305.65 L254.51,305.65 L254.94,305.65 L255.36,305.65 L255.79,305.65 L256.22,305.65 L256.64,305.65 L257.07,305.65 L257.50,305.65 L257.92,305.65 L258.35,305.65 L258.78,305.65 L259.20,305.65 L259.63,305.65 L260.06,305.65 L260.48,305.65 L260.91,305.65 L261.34,305.65 L261.77,305.65 L262.19,305.65 L262.62,305.65 L263.05,305.65 L263.47,305.65 L263.90,305.65 L264.33,305.64 L264.75,305.64 L265.18,305.64 L265.61,305.64 L266.03,305.64 L266.46,305.64 M378.28,304.85 L378.71,304.83 L379.14,304.81 L379.56,304.79 L379.99,304.78 L380.42,304.76 L380.84,304.74 L381.27,304.72 L381.70,304.70 L382.12,304.69 L382.55,304.67 L382.98,304.65 L383.40,304.63 L383.83,304.61 L384.26,304.59 L384.68,304.57 L385.11,304.56 L385.54,304.54 L385.96,304.52 L386.39,304.50 L386.82,304.48 L387.24,304.46 L387.67,304.44 L388.10,304.42 L388.52,304.40 L388.95,304.38 L389.38,304.36 L389.81,304.34 L390.23,304.32 L390.66,304.30 L391.09,304.28 L391.51,304.26 L391.94,304.24 L392.37,304.22 L392.79,304.19 L393.22,304.17 L393.65,304.15 L394.07,304.13 L394.50,304.11 L394.93,304.09 L395.35,304.06 L395.78,304.04 L396.21,304.02 L396.63,304.00 L397.06,303.97 L397.49,303.95 L397.91,303.93 L398.34,303.90 L398.77,303.88 L399.19,303.85 L399.62,303.83 L400.05,303.80 L400.48,303.78 L400.90,303.75 L401.33,303.73 L401.76,303.70 L402.18,303.68 L402.61,303.65 L403.04,303.62 L403.46,303.60 L403.89,303.57 L404.32,303.54 L404.74,303.51 L405.17,303.48 L405.60,303.45 L406.02,303.43 L406.45,303.40 L406.88,303.37 L407.30,303.33 L407.73,303.30 L407.82,303.30 L407.98,303.29 L408.14,303.27 L408.16,303.27 L408.31,303.26 L408.47,303.25 L408.58,303.24 L408.63,303.24 L408.79,303.22 L408.95,303.21 L409.01,303.21 L409.11,303.20 L409.27,303.19 L409.43,303.17 L409.44,303.17 L409.59,303.16 L409.75,303.15 L409.86,305.62 L409.91,305.62 L410.07,305.61 L410.23,305.60 L410.29,305.60 L410.39,305.59 L410.54,305.58 L410.70,305.57 L410.72,305.57 L410.86,305.57 L411.01,305.56 L411.15,305.55 L411.17,305.55 L411.32,305.54 L411.48,305.53 L411.57,305.53 L411.63,305.52 L411.79,305.51 L411.94,305.51 L412.00,305.50 L412.09,305.50 L412.24,305.49 L412.40,305.48 L412.43,305.48 L412.55,305.47 L412.70,305.46 L412.85,305.45 L412.85,305.45 L413.00,305.44 L413.15,305.43 L413.28,305.42 L413.30,305.42 L413.45,305.41 L413.60,305.40 L413.71,305.40 L413.75,305.39 L413.90,305.38 L414.04,305.37 L414.13,305.37 L414.19,305.36 L414.34,305.35 L414.48,305.34 L414.56,305.34 L414.63,305.33 L414.78,305.32 L414.92,305.31 L414.99,305.31 L415.07,305.30 L415.21,305.29 L415.35,305.28 L415.41,305.27 L415.50,305.27 L415.64,305.26 L415.78,305.25 L415.84,305.24 L415.93,305.23 L416.07,305.22 L416.21,305.21 L416.27,305.21 L416.35,305.20 L416.49,305.19 L416.63,305.18 L416.69,305.17 L416.77,305.17 L416.91,305.15 L417.05,305.14 L417.12,305.14 L417.19,305.13 L417.33,305.12 L417.47,305.11 L417.55,305.10 L417.60,305.09 L417.74,305.08 L417.88,305.07 L417.97,305.06 L418.01,305.06 L418.15,305.04 L418.28,305.03 L418.40,305.02 L418.42,305.02 L418.55,305.00 L418.69,304.99 L418.82,304.98 L418.83,304.98 L418.96,304.96 L419.09,304.95 L419.22,304.93 L419.25,304.93 L419.35,304.92 L419.49,304.91 L419.62,304.89 L419.68,304.89 L419.75,304.88 L419.88,304.86 L420.01,304.85 L420.11,304.84 L420.14,304.83 L420.27,304.82 L420.40,304.80 L420.52,304.79 L420.53,304.79 L420.65,304.77 L420.78,304.76 L420.91,304.74 L420.96,304.74 L421.03,304.73 L421.16,304.71 L421.29,304.69 L421.39,304.68 L421.41,304.68 L421.54,304.66 L421.66,304.64 L421.79,304.63 L421.82,304.62 L421.91,304.61 L422.03,304.59 L422.16,304.58 L422.24,304.56 L422.28,304.56 L422.40,304.54 L422.52,304.52 L422.65,304.51 L422.67,304.50 L422.77,304.49 L422.89,304.47 L423.01,304.45 L423.10,304.44 L423.13,304.43 L423.25,304.41 L423.37,304.39 L423.48,304.37 L423.52,304.37 L423.60,304.35 L423.72,304.33 L423.84,304.31 L423.95,304.30 L423.95,304.29 L424.07,304.27 L424.19,304.25 L424.30,304.23 L424.38,304.22 L424.42,304.21 L424.53,304.19 L424.65,304.17 L424.76,304.15 L424.80,304.14 L424.88,304.13 L424.99,304.10 L425.10,304.08 L425.21,304.06 L425.23,304.05 L425.33,304.03 L425.44,304.01 L425.55,303.99 L425.66,303.97 L425.66,303.96 L425.77,303.94 L425.88,303.92 L425.99,303.89 L426.08,303.87 L426.10,303.87 L426.21,303.84 L426.32,303.82 L426.42,303.79 L426.51,303.77 L426.53,303.76 L426.64,303.74 L426.75,303.71 L426.85,303.68 L426.94,303.66 L426.96,303.66 L427.06,303.63 L427.17,303.60 L427.27,303.57 L427.36,303.55 L427.38,303.55 L427.48,303.52 L427.58,303.49 L427.69,303.46 L427.79,303.43 L427.89,303.40 L427.99,303.37 L428.10,303.34 L428.20,303.30 L428.22,303.30 L428.30,303.27 L428.40,303.24 L428.50,303.21 L428.60,303.18 L428.64,303.16 L428.70,303.14 L428.79,303.11 L428.89,303.07 L428.99,303.04 L429.07,303.01 L429.09,303.00 L429.18,302.97 L429.28,302.93 L429.38,302.90 L429.47,302.86 L429.50,302.85 L429.57,302.82 L429.66,302.78 L429.76,302.75 L429.85,302.71 L429.92,302.68 L429.94,302.67 L430.04,302.63 L430.13,302.59 L430.22,302.55 L430.32,302.50 L430.35,302.49 L430.41,302.46 L430.50,302.42 L430.59,302.38 L430.68,302.33 L430.77,302.29 L430.78,302.28 L430.86,302.24 L430.95,302.20 L431.04,302.15 L431.12,302.10 L431.20,302.06 L431.21,302.06 L431.30,302.01 L431.39,301.96 L431.47,301.91 L431.56,301.86 L431.63,301.82 L431.65,301.81 L431.73,301.76 L431.82,301.70 L431.90,301.65 L431.98,301.60 L432.06,301.55 L432.07,301.54 L432.15,301.49 L432.24,301.43 L432.32,301.37 L432.40,301.31 L432.48,301.26 L432.49,301.25 L432.56,301.20 L432.64,301.13 L432.72,301.07 L432.80,301.01 L432.88,300.95 L432.91,300.92 L432.96,300.88 L433.04,300.82 L433.12,300.75 L433.20,300.68 L433.28,300.61 L433.34,300.56 L433.35,300.54 L433.43,300.47 L433.51,300.40 L433.58,300.33 L433.66,300.25 L433.73,300.18 L433.77,300.14 L433.81,300.10 L433.88,300.02 L433.96,299.94 L434.03,299.86 L434.10,299.78 L434.18,299.69 L434.19,299.68 L434.25,299.61 L434.32,299.52 L434.39,299.44 L434.46,299.35 L434.53,299.26 L434.60,299.16 L434.62,299.14 L434.67,299.07 L434.74,298.97 L434.81,298.88 L434.88,298.78 L434.95,298.68 L435.02,298.57 L435.05,298.53 L435.08,298.47 L435.15,298.36 L435.22,298.25 L435.28,298.14 L435.35,298.03 L435.42,297.91 L435.47,297.81 L435.48,297.80 L435.54,297.68 L435.61,297.56 L435.67,297.43 L435.74,297.31 L435.80,297.18 L435.86,297.05 L435.90,296.97 L435.92,296.92 L435.98,296.78 L436.05,296.64 L436.11,296.50 L436.17,296.36 L436.23,296.21 L436.29,296.06 L436.33,295.96 L436.35,295.91 L436.41,295.75 L436.46,295.59 L436.52,295.43 L436.58,295.26 L436.64,295.09 L436.69,294.92 L436.75,294.74 L436.75,294.73 L436.81,294.56 L436.86,294.38 L436.92,294.19 L436.97,294.00 L437.02,293.80 L437.08,293.60 L437.13,293.39 L437.18,293.20 L437.19,293.18 L437.24,292.97 L437.29,292.75 L437.34,292.52 L437.39,292.29 L437.44,292.06 L437.49,291.82 L437.55,291.57 L437.60,291.32 L437.61,291.26 L437.64,291.06 L437.69,290.79 L437.74,290.52 L437.79,290.25 L437.84,289.96 L437.89,289.67 L437.93,289.37 L437.98,289.07 L438.02,288.76 L438.03,288.69 L438.07,288.44 L438.12,288.11 L438.16,287.77 L438.20,287.42 L438.25,287.07 L438.29,286.71 L438.34,286.33 L438.38,285.95 L438.42,285.56 L438.46,285.18 L438.46,285.15 L438.50,284.74 L438.55,284.31 L438.59,283.88 L438.63,283.43 L438.67,282.97 L438.71,282.49 L438.75,282.01 L438.78,281.51 L438.82,281.00 L438.86,280.47 L438.89,280.09 L438.90,279.93 L438.94,279.37 L438.97,278.80 L439.01,278.21 L439.04,277.61 L439.08,276.98 L439.11,276.34 L439.15,275.69 L439.18,275.01 L439.22,274.32 L439.25,273.60 L439.28,272.87 L439.31,272.16 L439.32,272.11 L439.35,271.34 L439.38,270.54 L439.41,269.72 L439.44,268.88 L439.47,268.01 L439.50,267.13 L439.53,266.21 L439.56,265.28 L439.59,264.32 L439.62,263.33 L439.65,262.33 L439.67,261.29 L439.70,260.23 L439.73,259.15 L439.74,258.66 L439.76,258.04 L439.78,256.92 L439.81,255.76 L439.83,254.58 L439.86,253.38 L439.88,252.16 L439.91,250.92 L439.93,249.67 L439.95,248.39 L439.97,247.10 L440.00,245.79 L440.02,244.48 L440.04,243.16 L440.06,241.82 L440.08,240.49 L440.10,239.15 L440.12,237.83 L440.14,236.51 L440.16,235.19 L440.17,234.73 L440.18,233.89 L440.20,232.61 L440.22,231.35 L440.23,230.12 L440.25,228.91 L440.27,227.74 L440.28,226.60 L440.30,225.51 L440.31,224.46 L440.33,223.44 L440.34,222.49 L440.36,221.57 L440.37,220.71 L440.38,219.90 L440.40,219.14 L440.41,218.44 L440.42,217.78 L440.43,217.19 L440.45,216.64 L440.46,216.13 L440.47,215.68 L440.48,215.27 L440.49,214.91 L440.50,214.58 L440.50,214.29 L440.51,214.05 L440.52,213.83 L440.53,213.64 L440.54,213.49 L440.54,213.35 L440.55,213.24 L440.55,213.15 L440.56,213.08 L440.56,213.02 L440.57,212.97 L440.57,212.94 L440.58,212.91 L440.58,212.89 L440.58,212.88 L440.59,212.87 L440.59,212.86 L440.59,212.86 L440.59,212.86 L440.59,212.86 L440.59,212.86 L440.59,212.86 L440.59,212.86 L440.60,212.86 L440.60,212.86 L440.60,212.86 L440.60,212.86 L440.60,212.87 L440.60,212.88 L440.61,212.89 L440.61,212.91 L440.61,212.94 L440.62,212.97 L440.62,213.02 L440.63,213.08 L440.63,213.15 L440.64,213.24 L440.65,213.35 L440.65,213.49 L440.66,213.64 L440.67,213.83 L440.68,214.05 L440.68,214.29 L440.69,214.58 L440.70,214.91 L440.71,215.27 L440.72,215.68 L440.73,216.13 L440.74,216.64 L440.76,217.19 L440.77,217.79 L440.78,218.44 L440.79,219.15 L440.80,219.91 L440.82,220.72 L440.83,221.58 L440.85,222.50 L440.86,223.46 L440.87,224.47 L440.89,225.53 L440.91,226.62 L440.92,227.76 L440.94,228.93 L440.96,230.15 L440.97,231.38 L440.99,232.64 L441.01,233.92 L441.02,234.76 L441.03,235.22 L441.05,236.54 L441.07,237.87 L441.09,239.20 L441.11,240.54 L441.13,241.87 L441.15,243.21 L441.17,244.53 L441.19,245.85 L441.21,247.16 L441.24,248.45 L441.26,249.73 L441.28,250.99 L441.31,252.23 L441.33,253.46 L441.36,254.66 L441.38,255.84 L441.41,257.00 L441.43,258.13 L441.45,258.74 L441.46,259.24 L441.49,260.32 L441.51,261.38 L441.54,262.42 L441.57,263.43 L441.60,264.41 L441.63,265.37 L441.66,266.31 L441.69,267.22 L441.72,268.11 L441.75,268.98 L441.78,269.82 L441.81,270.64 L441.84,271.44 L441.87,272.22 L441.87,272.26 L441.91,272.97 L441.94,273.71 L441.97,274.43 L442.01,275.12 L442.04,275.80 L442.07,276.46 L442.11,277.10 L442.15,277.72 L442.18,278.33 L442.22,278.91 L442.25,279.49 L442.29,280.04 L442.30,280.20 L442.33,280.59 L442.37,281.12 L442.40,281.63 L442.44,282.13 L442.48,282.62 L442.52,283.09 L442.56,283.55 L442.60,284.00 L442.64,284.44 L442.68,284.86 L442.73,285.28 L442.73,285.30 L442.77,285.68 L442.81,286.07 L442.85,286.46 L442.90,286.83 L442.94,287.19 L442.98,287.55 L443.03,287.90 L443.07,288.23 L443.12,288.56 L443.16,288.82 L443.16,288.88 L443.21,289.20 L443.26,289.50 L443.30,289.80 L443.35,290.09 L443.40,290.38 L443.45,290.65 L443.50,290.92 L443.54,291.19 L443.58,291.39 L443.59,291.45 L443.64,291.70 L443.69,291.95 L443.74,292.19 L443.80,292.42 L443.85,292.65 L443.90,292.88 L443.95,293.10 L444.00,293.31 L444.01,293.33 L444.06,293.52 L444.11,293.73 L444.16,293.93 L444.22,294.13 L444.27,294.32 L444.33,294.51 L444.38,294.69 L444.44,294.86 L444.44,294.87 L444.50,295.05 L444.55,295.22 L444.61,295.39 L444.67,295.56 L444.73,295.72 L444.78,295.88 L444.84,296.04 L444.86,296.09 L444.90,296.19 L444.96,296.34 L445.02,296.49 L445.08,296.63 L445.14,296.77 L445.20,296.91 L445.27,297.05 L445.29,297.10 L445.33,297.18 L445.39,297.31 L445.45,297.44 L445.52,297.57 L445.58,297.69 L445.64,297.81 L445.71,297.93 L445.72,297.95 L445.77,298.05 L445.84,298.16 L445.90,298.28 L445.97,298.39 L446.04,298.50 L446.10,298.60 L446.14,298.66 L446.17,298.71 L446.24,298.81 L446.31,298.91 L446.38,299.01 L446.45,299.11 L446.51,299.20 L446.57,299.28 L446.58,299.30 L446.66,299.39 L446.73,299.48 L446.80,299.57 L446.87,299.66 L446.94,299.75 L447.00,299.81 L447.01,299.83 L447.09,299.91 L447.16,300.00 L447.23,300.08 L447.31,300.16 L447.38,300.24 L447.42,300.28 L447.46,300.31 L447.53,300.39 L447.61,300.46 L447.68,300.54 L447.76,300.61 L447.84,300.68 L447.85,300.69 L447.91,300.75 L447.99,300.82 L448.07,300.89 L448.15,300.95 L448.23,301.02 L448.28,301.06 L448.30,301.08 L448.38,301.15 L448.46,301.21 L448.55,301.27 L448.63,301.33 L448.70,301.39 L448.71,301.39 L448.79,301.45 L448.87,301.51 L448.95,301.57 L449.04,301.62 L449.12,301.68 L449.13,301.69 L449.20,301.73 L449.29,301.79 L449.37,301.84 L449.46,301.90 L449.54,301.95 L449.56,301.96 L449.63,302.00 L449.72,302.05 L449.80,302.10 L449.89,302.15 L449.98,302.20 L449.98,302.20 L450.06,302.24 L450.15,302.29 L450.24,302.34 L450.33,302.38 L450.41,302.42 L450.42,302.43 L450.51,302.47 L450.60,302.52 L450.69,302.56 L450.78,302.60 L450.84,302.63 L450.87,302.64 L450.97,302.69 L451.06,302.73 L451.15,302.77 L451.24,302.81 L451.26,302.82 L451.34,302.85 L451.43,302.89 L451.53,302.92 L451.62,302.96 L451.69,302.99 L451.72,303.00 L451.81,303.04 L451.91,303.07 L452.00,303.11 L452.10,303.14 L452.12,303.15 L452.20,303.18 L452.30,303.21 L452.39,303.25 L452.49,303.28 L452.54,303.30 L452.59,303.32 L452.69,303.35 L452.79,303.38 L452.89,303.41 L452.97,303.44 L452.99,303.45 L453.09,303.48 L453.19,303.51 L453.30,303.54 L453.40,303.57 L453.50,303.60 L453.60,303.63 L453.71,303.66 L453.81,303.69 L453.83,303.69 L453.92,303.72 L454.02,303.74 L454.13,303.77 L454.23,303.80 L454.25,303.81 L454.34,303.83 L454.44,303.85 L454.55,303.88 L454.66,303.91 L454.68,303.91 L454.76,303.93 L454.87,303.96 L454.98,303.98 L455.09,304.01 L455.11,304.01 L455.20,304.03 L455.31,304.06 L455.42,304.08 L455.53,304.11 L455.53,304.11 L455.64,304.13 L455.75,304.15 L455.86,304.18 L455.96,304.20 L455.97,304.20 L456.09,304.22 L456.20,304.25 L456.31,304.27 L456.39,304.28 L456.43,304.29 L456.54,304.31 L456.66,304.33 L456.77,304.36 L456.81,304.36 L456.89,304.38 L457.00,304.40 L457.12,304.42 L457.23,304.44 L457.24,304.44 L457.35,304.46 L457.47,304.48 L457.59,304.50 L457.67,304.51 L457.70,304.52 L457.82,304.54 L457.94,304.56 L458.06,304.58 L458.09,304.58 L458.18,304.60 L458.30,304.61 L458.42,304.63 L458.52,304.65 L458.54,304.65 L458.67,304.67 L458.79,304.69 L458.91,304.71 L458.95,304.71 L459.03,304.72 L459.16,304.74 L459.28,304.76 L459.37,304.77 L459.40,304.77 L459.53,304.79 L459.65,304.81 L459.78,304.82 L459.80,304.83 L459.90,304.84 L460.03,304.86 L460.15,304.87 L460.23,304.88 L460.28,304.89 L460.41,304.91 L460.54,304.92 L460.65,304.93 L460.66,304.94 L460.79,304.95 L460.92,304.97 L461.05,304.98 L461.08,304.99 L461.18,305.00 L461.31,305.01 L461.44,305.03 L461.51,305.03 L461.57,305.04 L461.70,305.05 L461.84,305.07 L461.93,305.08 L461.97,305.08 L462.10,305.10 L462.23,305.11 L462.36,305.12 L462.37,305.12 L462.50,305.14 L462.63,305.15 L462.77,305.17 L462.79,305.17 L462.90,305.18 L463.04,305.19 L463.18,305.20 L463.21,305.21 L463.31,305.22 L463.45,305.23 L463.59,305.24 L463.64,305.25 L463.72,305.26 L463.86,305.27 L464.00,305.28 L464.07,305.29 L464.14,305.29 L464.28,305.30 L464.42,305.32 L464.50,305.32 L464.56,305.33 L464.70,305.34 L464.84,305.35 L464.92,305.36 L464.98,305.36 L465.12,305.37 L465.26,305.39 L465.35,305.39 L465.40,305.40 L465.55,305.41 L465.69,305.42 L465.78,305.43 L465.83,305.43 L465.98,305.44 L466.12,305.45 L466.20,305.46 L466.27,305.46 L466.41,305.47 L466.56,305.48 L466.63,305.49 L466.70,305.49 L466.85,305.50 L467.00,305.51 L467.06,305.52 L467.14,305.53 L467.29,305.54 L467.44,305.55 L467.48,305.55 L467.59,305.56 L467.74,305.57 L467.89,305.57 L467.91,305.58 L468.04,305.58 L468.19,305.59 L468.34,305.60 L468.34,305.60 L468.49,305.61 L468.64,305.62 L468.76,305.63 L468.79,305.63 L468.94,305.64 L469.10,305.65 L469.19,305.66 L469.25,305.66 L469.40,305.67 L469.56,305.68 L469.62,305.68 L469.71,305.69 L469.87,305.69 L470.02,305.70 L470.04,305.70 L470.18,305.71 L470.33,305.72 L470.47,305.73 L470.49,305.73 L470.65,305.74 L470.80,305.75 L470.90,305.75 L470.96,305.75 L471.12,305.76 L471.28,305.77 L471.32,305.77 L471.44,305.78 L471.59,305.79 L471.75,305.80 L471.75,305.80 L471.91,305.80 L472.07,305.81 L472.18,305.82 L472.24,305.82 L472.40,305.83 L472.56,305.83 L472.60,305.84 L472.72,305.84 L472.88,305.85 L473.03,305.86 L473.05,305.86 L473.21,305.86 L473.37,305.87 L473.46,305.88 L473.88,305.90 L474.31,305.91 L474.74,305.93 L475.17,305.95 L475.59,305.97 L476.02,305.98 L476.45,306.00 L476.87,306.02 L477.30,306.03 L477.73,306.05 L478.15,306.06 L478.58,306.08 L479.01,306.09 L479.43,306.10 L479.86,306.12 L480.29,306.13 L480.71,306.14 L481.14,306.16 L481.57,306.17 L481.99,306.18 L482.42,306.19 L482.85,306.20 L483.27,306.22 L483.70,306.23 L484.13,306.24 L484.55,306.25 L484.98,306.26 L485.41,306.27 L485.84,306.28 L486.26,306.29 L486.69,306.30 L487.12,306.31 L487.54,306.32 L487.97,306.33 L488.40,306.34 L488.82,306.35 L489.25,306.36 L489.68,306.37 L490.10,306.37 L490.53,306.38 L490.96,306.39 L491.38,306.40 L491.81,306.41 L492.24,306.41 L492.66,306.42 L493.09,306.43 L493.52,306.44 L493.94,306.44 L494.37,306.45 L494.80,306.46 L495.22,306.47 L495.65,306.47 L496.08,306.48 L496.51,306.49 L496.93,306.49 L497.36,306.50 L497.79,306.51 L498.21,306.51 L498.64,306.52 L499.07,306.52 L499.49,306.53 L499.92,306.54 L500.35,306.54 L500.77,306.55 L501.20,306.55" fill="none" stroke="#c00000" stroke-width="2" stroke-dasharray="1.8 1.8"/>
<path d="M74.40,306.52 L74.46,306.52 L74.59,306.52 L74.73,306.52 L74.83,306.52 L74.87,306.52 L75.00,306.52 L75.14,306.52 L75.25,306.52 L75.27,306.52 L75.41,306.52 L75.54,306.52 L75.68,306.52 L75.68,306.52 L75.81,306.52 L75.94,306.52 L76.07,306.52 L76.11,306.52 L76.21,306.52 L76.34,306.52 L76.47,306.52 L76.53,306.52 L76.60,306.52 L76.73,306.52 L76.86,306.52 L76.96,306.52 L76.99,306.52 L77.12,306.52 L77.25,306.52 L77.38,306.52 L77.39,306.52 L77.50,306.52 L77.63,306.52 L77.76,306.52 L77.81,306.52 L77.89,306.52 L78.01,306.52 L78.14,306.52 L78.24,306.52 L78.26,306.52 L78.39,306.52 L78.51,306.52 L78.64,306.52 L78.67,306.52 L78.76,306.52 L78.89,306.52 L79.01,306.52 L79.09,306.52 L79.13,306.52 L79.25,306.52 L79.38,306.52 L79.50,306.52 L79.52,306.52 L79.62,306.52 L79.74,306.52 L79.86,306.52 L79.95,306.52 L79.98,306.52 L80.10,306.52 L80.22,306.52 L80.34,306.52 L80.38,306.52 L80.45,306.52 L80.57,306.52 L80.69,306.52 L80.80,306.52 L80.81,306.52 L80.92,306.52 L81.04,306.52 L81.16,306.52 L81.23,306.52 L81.27,306.52 L81.39,306.52 L81.50,306.52 L81.61,306.52 L81.66,306.52 L81.73,306.52 L81.84,306.52 L81.95,306.52 L82.07,306.52 L82.08,306.52 L82.18,306.52 L82.29,306.52 L82.40,306.52 L82.51,306.52 L82.51,306.52 L82.62,306.52 L82.73,306.52 L82.84,306.52 L82.94,306.52 L82.95,306.52 L83.06,306.51 L83.17,306.51 L83.28,306.51 L83.36,306.51 L83.38,306.51 L83.49,306.51 L83.60,306.51 L83.70,306.51 L83.79,306.51 L83.81,306.51 L83.92,306.51 L84.02,306.51 L84.13,306.51 L84.22,306.51 L84.23,306.51 L84.33,306.51 L84.44,306.51 L84.54,306.51 L84.64,306.51 L84.75,306.51 L84.85,306.51 L84.95,306.51 L85.05,306.51 L85.07,306.51 L85.15,306.51 L85.25,306.51 L85.35,306.51 L85.45,306.51 L85.50,306.51 L85.55,306.51 L85.65,306.51 L85.75,306.51 L85.84,306.51 L85.92,306.51 L85.94,306.51 L86.04,306.51 L86.13,306.51 L86.23,306.51 L86.33,306.51 L86.35,306.51 L86.42,306.51 L86.52,306.51 L86.61,306.51 L86.70,306.51 L86.78,306.51 L86.80,306.51 L86.89,306.51 L86.98,306.51 L87.08,306.51 L87.17,306.51 L87.20,306.51 L87.26,306.50 L87.35,306.50 L87.44,306.50 L87.53,306.50 L87.62,306.50 L87.63,306.50 L87.71,306.50 L87.80,306.50 L87.89,306.50 L87.98,306.50 L88.06,306.50 L88.07,306.50 L88.15,306.50 L88.24,306.50 L88.33,306.50 L88.41,306.50 L88.48,306.50 L88.50,306.50 L88.58,306.50 L88.67,306.50 L88.75,306.50 L88.84,306.50 L88.91,306.50 L88.92,306.50 L89.00,306.50 L89.09,306.50 L89.17,306.50 L89.25,306.50 L89.33,306.50 L89.34,306.50 L89.42,306.50 L89.50,306.50 L89.58,306.50 L89.66,306.50 L89.74,306.50 L89.76,306.50 L89.82,306.50 L89.90,306.49 L89.97,306.49 L90.05,306.49 L90.13,306.49 L90.19,306.49 L90.21,306.49 L90.28,306.49 L90.36,306.49 L90.44,306.49 L90.51,306.49 L90.59,306.49 L90.62,306.49 L90.66,306.49 L90.74,306.49 L90.81,306.49 L90.88,306.49 L90.96,306.49 L91.03,306.49 L91.05,306.49 L91.10,306.49 L91.17,306.49 L91.24,306.49 L91.32,306.49 L91.39,306.49 L91.46,306.49 L91.47,306.49 L91.53,306.48 L91.60,306.48 L91.67,306.48 L91.73,306.48 L91.80,306.48 L91.87,306.48 L91.90,306.48 L91.94,306.48 L92.00,306.48 L92.07,306.48 L92.14,306.48 L92.20,306.48 L92.27,306.48 L92.33,306.48 L92.33,306.48 L92.40,306.48 L92.46,306.48 L92.53,306.48 L92.59,306.48 L92.65,306.47 L92.71,306.47 L92.75,306.47 L92.78,306.47 L92.84,306.47 L92.90,306.47 L92.96,306.47 L93.02,306.47 L93.08,306.47 L93.14,306.47 L93.18,306.47 L93.20,306.47 L93.26,306.47 L93.32,306.47 L93.37,306.47 L93.43,306.46 L93.49,306.46 L93.55,306.46 L93.60,306.46 L93.61,306.46 L93.66,306.46 L93.71,306.46 L93.77,306.46 L93.82,306.46 L93.88,306.46 L93.93,306.46 L93.98,306.45 L94.03,306.45 L94.04,306.45 L94.09,306.45 L94.14,306.45 L94.19,306.45 L94.25,306.45 L94.30,306.45 L94.35,306.45 L94.40,306.45 L94.45,306.44 L94.46,306.44 L94.50,306.44 L94.55,306.44 L94.59,306.44 L94.64,306.44 L94.69,306.44 L94.74,306.44 L94.78,306.43 L94.83,306.43 L94.88,306.43 L94.89,306.43 L94.92,306.43 L94.97,306.43 L95.01,306.43 L95.06,306.42 L95.10,306.42 L95.15,306.42 L95.19,306.42 L95.23,306.42 L95.27,306.41 L95.31,306.41 L95.32,306.41 L95.36,306.41 L95.40,306.41 L95.44,306.41 L95.48,306.40 L95.52,306.40 L95.56,306.40 L95.60,306.40 L95.64,306.39 L95.68,306.39 L95.71,306.39 L95.74,306.39 L95.75,306.39 L95.79,306.38 L95.82,306.38 L95.86,306.38 L95.90,306.37 L95.93,306.37 L95.97,306.37 L96.00,306.36 L96.04,306.36 L96.07,306.35 L96.10,306.35 L96.14,306.35 L96.17,306.34 L96.17,306.34 L96.20,306.34 L96.23,306.33 L96.26,306.33 L96.29,306.32 L96.33,306.32 L96.36,306.31 L96.39,306.31 L96.41,306.30 L96.44,306.29 L96.47,306.29 L96.50,306.28 L96.53,306.27 L96.55,306.27 L96.58,306.26 L96.59,306.25 L96.61,306.25 L96.63,306.24 L96.66,306.23 L96.68,306.22 L96.71,306.21 L96.73,306.20 L96.76,306.19 L96.78,306.18 L96.80,306.17 L96.83,306.15 L96.85,306.14 L96.87,306.13 L96.89,306.11 L96.91,306.10 L96.94,306.08 L96.96,306.06 L96.98,306.04 L96.99,306.02 L97.01,306.00 L97.02,305.99 L97.03,305.98 L97.05,305.95 L97.07,305.93 L97.09,305.90 L97.10,305.87 L97.12,305.84 L97.14,305.80 L97.15,305.76 L97.17,305.72 L97.18,305.68 L97.20,305.63 L97.21,305.58 L97.22,305.52 L97.24,305.46 L97.25,305.40 L97.26,305.32 L97.27,305.24 L97.29,305.15 L97.30,305.05 L97.31,304.95 L97.32,304.83 L97.33,304.69 L97.34,304.55 L97.35,304.38 L97.36,304.20 L97.37,304.00 L97.37,303.77 L97.38,303.52 L97.39,303.24 L97.39,302.94 L97.40,302.62 L97.41,302.27 L97.41,301.92 L97.42,301.56 L97.42,301.21 L97.43,300.90 L97.43,300.62 L97.43,300.40 L97.44,300.23 L97.44,300.11 L97.44,300.04 L97.44,300.00 L97.45,299.98 L97.45,299.97 L97.45,299.97 L97.45,299.97 L97.45,299.97 L97.45,299.97 L97.45,299.98 L97.45,300.00 L97.45,300.04 L97.45,300.11 L97.46,300.23 L97.46,300.40 L97.46,300.62 L97.47,300.90 L97.47,301.21 L97.48,301.56 L97.48,301.92 L97.49,302.27 L97.49,302.62 L97.50,302.95 L97.51,303.25 L97.51,303.53 L97.52,303.78 L97.53,304.00 L97.54,304.21 L97.55,304.39 L97.56,304.55 L97.57,304.70 L97.58,304.84 L97.59,304.95 L97.60,305.06 L97.61,305.16 L97.62,305.25 L97.63,305.33 L97.64,305.40 L97.66,305.47 L97.67,305.53 L97.68,305.59 L97.70,305.64 L97.71,305.69 L97.73,305.73 L97.74,305.77 L97.76,305.81 L97.77,305.84 L97.79,305.88 L97.81,305.91 L97.83,305.94 L97.84,305.96 L97.86,305.99 L97.87,306.00 L97.88,306.01 L97.90,306.03 L97.92,306.05 L97.94,306.07 L97.96,306.09 L97.98,306.10 L98.00,306.12 L98.02,306.14 L98.04,306.15 L98.07,306.16 L98.09,306.18 L98.11,306.19 L98.14,306.20 L98.16,306.21 L98.18,306.22 L98.21,306.23 L98.23,306.24 L98.26,306.25 L98.29,306.26 L98.30,306.26 L98.31,306.26 L98.34,306.27 L98.37,306.28 L98.39,306.29 L98.42,306.29 L98.45,306.30 L98.48,306.31 L98.51,306.31 L98.54,306.32 L98.57,306.32 L98.60,306.33 L98.63,306.33 L98.66,306.34 L98.69,306.34 L98.73,306.35 L98.73,306.35 L98.76,306.35 L98.79,306.36 L98.82,306.36 L98.86,306.36 L98.89,306.37 L98.93,306.37 L98.96,306.37 L99.00,306.38 L99.03,306.38 L99.07,306.38 L99.11,306.39 L99.14,306.39 L99.15,306.39 L99.18,306.39 L99.22,306.39 L99.26,306.40 L99.30,306.40 L99.34,306.40 L99.37,306.40 L99.41,306.41 L99.46,306.41 L99.50,306.41 L99.54,306.41 L99.58,306.42 L99.58,306.42 L99.62,306.42 L99.66,306.42 L99.71,306.42 L99.75,306.42 L99.79,306.42 L99.84,306.43 L99.88,306.43 L99.93,306.43 L99.97,306.43 L100.01,306.43 L100.02,306.43 L100.06,306.43 L100.11,306.44 L100.16,306.44 L100.20,306.44 L100.25,306.44 L100.30,306.44 L100.35,306.44 L100.40,306.44 L100.43,306.44 L100.45,306.44 L100.50,306.45 L100.55,306.45 L100.60,306.45 L100.65,306.45 L100.70,306.45 L100.75,306.45 L100.80,306.45 L100.86,306.45 L100.86,306.45 L100.91,306.45 L100.96,306.45 L101.02,306.46 L101.07,306.46 L101.13,306.46 L101.18,306.46 L101.24,306.46 L101.29,306.46 L101.29,306.46 L101.35,306.46 L101.41,306.46 L101.46,306.46 L101.52,306.46 L101.58,306.46 L101.64,306.46 L101.70,306.46 L101.72,306.46 L101.75,306.46 L101.81,306.47 L101.87,306.47 L101.93,306.47 L102.00,306.47 L102.06,306.47 L102.12,306.47 L102.14,306.47 L102.18,306.47 L102.24,306.47 L102.31,306.47 L102.37,306.47 L102.43,306.47 L102.50,306.47 L102.56,306.47 L102.57,306.47 L102.63,306.47 L102.69,306.47 L102.76,306.47 L102.82,306.47 L102.89,306.47 L102.96,306.47 L103.00,306.47 L103.02,306.47 L103.09,306.47 L103.16,306.47 L103.23,306.48 L103.30,306.48 L103.37,306.48 L103.42,306.48 L103.44,306.48 L103.51,306.48 L103.58,306.48 L103.65,306.48 L103.72,306.48 L103.79,306.48 L103.85,306.48 L103.87,306.48 L103.94,306.48 L104.01,306.48 L104.08,306.48 L104.16,306.48 L104.23,306.48 L104.28,306.48 L104.31,306.48 L104.38,306.48 L104.46,306.48 L104.53,306.48 L104.61,306.48 L104.69,306.48 L104.70,306.48 L104.77,306.48 L104.84,306.48 L104.92,306.48 L105.00,306.48 L105.08,306.48 L105.13,306.48 L105.16,306.48 L105.24,306.48 L105.32,306.48 L105.40,306.48 L105.48,306.48 L105.56,306.48 L105.56,306.48 L105.64,306.48 L105.72,306.48 L105.81,306.48 L105.89,306.48 L105.97,306.48 L105.98,306.48 L106.06,306.48 L106.14,306.48 L106.23,306.48 L106.31,306.48 L106.40,306.48 L106.41,306.48 L106.48,306.48 L106.57,306.48 L106.65,306.48 L106.74,306.48 L106.83,306.48 L106.84,306.48 L106.92,306.48 L107.01,306.48 L107.09,306.48 L107.18,306.48 L107.26,306.48 L107.27,306.48 L107.36,306.48 L107.45,306.48 L107.54,306.48 L107.63,306.48 L107.69,306.48 L107.73,306.48 L107.82,306.48 L107.91,306.48 L108.00,306.48 L108.10,306.48 L108.12,306.48 L108.19,306.48 L108.28,306.48 L108.38,306.48 L108.47,306.48 L108.54,306.48 L108.57,306.48 L108.66,306.48 L108.76,306.48 L108.86,306.48 L108.95,306.48 L108.97,306.48 L109.05,306.48 L109.15,306.48 L109.25,306.48 L109.35,306.48 L109.40,306.48 L109.44,306.48 L109.54,306.48 L109.64,306.48 L109.74,306.48 L109.82,306.48 L109.84,306.48 L109.95,306.48 L110.05,306.48 L110.15,306.48 L110.25,306.48 L110.35,306.48 L110.46,306.48 L110.56,306.48 L110.66,306.48 L110.68,306.48 L110.77,306.48 L110.87,306.48 L110.98,306.48 L111.08,306.48 L111.10,306.48 L111.19,306.48 L111.30,306.48 L111.40,306.48 L111.51,306.48 L111.53,306.48 L111.62,306.48 L111.73,306.48 L111.83,306.48 L111.94,306.48 L111.96,306.48 L112.05,306.48 L112.16,306.48 L112.27,306.48 L112.38,306.48 L112.39,306.48 L112.49,306.48 L112.60,306.48 L112.72,306.48 L112.81,306.48 L112.83,306.48 L112.94,306.48 L113.05,306.48 L113.17,306.48 L113.24,306.48 L113.28,306.48 L113.39,306.48 L113.51,306.48 L113.62,306.48 L113.67,306.48 L113.74,306.48 L113.85,306.48 L113.97,306.48 L114.09,306.48 L114.09,306.48 L114.20,306.48 L114.32,306.48 L114.44,306.48 L114.52,306.48 L114.56,306.47 L114.68,306.47 L114.80,306.47 L114.91,306.47 L114.95,306.47 L115.03,306.47 L115.15,306.47 L115.28,306.47 L115.37,306.47 L115.40,306.47 L115.52,306.47 L115.64,306.47 L115.76,306.47 L115.80,306.47 L115.88,306.47 L116.01,306.47 L116.13,306.47 L116.23,306.47 L116.26,306.47 L116.38,306.47 L116.50,306.47 L116.63,306.47 L116.65,306.47 L116.76,306.47 L116.88,306.47 L117.01,306.47 L117.08,306.47 L117.13,306.47 L117.26,306.47 L117.39,306.47 L117.51,306.47 L117.52,306.47 L117.65,306.47 L117.77,306.47 L117.90,306.47 L117.93,306.47 L118.03,306.47 L118.16,306.47 L118.29,306.47 L118.36,306.47 L118.43,306.47 L118.56,306.47 L118.69,306.47 L118.79,306.47 L118.82,306.47 L118.95,306.47 L119.09,306.47 L119.21,306.46 L119.22,306.46 L119.35,306.46 L119.49,306.46 L119.62,306.46 L119.64,306.46 L119.76,306.46 L119.89,306.46 L120.03,306.46 L120.07,306.46 L120.16,306.46 L120.30,306.46 L120.44,306.46 L120.49,306.46 L120.58,306.46 L120.71,306.46 L120.85,306.46 L120.92,306.46 L120.99,306.46 L121.13,306.46 L121.27,306.46 L121.35,306.46 L121.41,306.46 L121.55,306.46 L121.69,306.46 L121.77,306.46 L121.83,306.46 L121.97,306.46 L122.11,306.46 L122.20,306.46 L122.26,306.46 L122.40,306.46 L122.54,306.46 L122.63,306.46 L122.69,306.46 L122.83,306.46 L122.98,306.45 L123.06,306.45 L123.12,306.45 L123.27,306.45 L123.41,306.45 L123.48,306.45 L123.56,306.45 L123.70,306.45 L123.85,306.45 L123.91,306.45 L124.00,306.45 L124.15,306.45 L124.29,306.45 L124.34,306.45 L124.44,306.45 L124.59,306.45 L124.74,306.45 L124.76,306.45 L124.89,306.45 L125.04,306.45 L125.19,306.45 L125.19,306.45 L125.34,306.45 L125.49,306.45 L125.62,306.45 L125.64,306.45 L125.80,306.45 L125.95,306.45 L126.04,306.45 L126.10,306.45 L126.26,306.45 L126.41,306.44 L126.47,306.44 L126.56,306.44 L126.72,306.44 L126.87,306.44 L126.90,306.44 L127.03,306.44 L127.19,306.44 L127.32,306.44 L127.34,306.44 L127.50,306.44 L127.66,306.44 L127.75,306.44 L127.81,306.44 L127.97,306.44 L128.13,306.44 L128.18,306.44 L128.29,306.44 L128.45,306.44 L128.60,306.44 L128.61,306.44 L128.77,306.44 L128.93,306.44 L129.03,306.44 L129.09,306.44 L129.25,306.44 L129.41,306.43 L129.46,306.43 L129.57,306.43 L129.74,306.43 L129.88,306.43 L129.90,306.43 L130.06,306.43 L130.23,306.43 L130.31,306.43 L130.74,306.43 L131.16,306.43 L131.59,306.43 L132.02,306.42 L132.44,306.42 L132.87,306.42 L133.30,306.42 L133.73,306.42 L134.15,306.42 L134.58,306.41 L135.01,306.41 L135.43,306.41 L135.86,306.41 L136.29,306.41 L136.71,306.41 L137.14,306.40 L137.57,306.40 L137.99,306.40 L138.42,306.40 L138.85,306.40 L139.27,306.39 L139.70,306.39 L140.13,306.39 L140.55,306.39 L140.98,306.39 L141.41,306.38 L141.83,306.38 L142.26,306.38 L142.69,306.38 L143.11,306.38 L143.54,306.37 L143.97,306.37 L144.40,306.37 L144.82,306.37 L145.25,306.36 L145.68,306.36 L146.10,306.36 L146.53,306.36 L146.96,306.35 L147.38,306.35 L147.81,306.35 L148.24,306.35 L148.66,306.34 L149.09,306.34 L149.52,306.34 L149.94,306.34 L150.37,306.33 L150.80,306.33 L151.22,306.33 L151.65,306.32 L152.08,306.32 L152.50,306.32 L152.93,306.32 L153.36,306.31 L153.78,306.31 L154.21,306.31 L154.64,306.30 L155.07,306.30 L155.49,306.30 L155.92,306.29 L156.35,306.29 L156.77,306.29 L157.20,306.28 L157.63,306.28 L158.05,306.28 L158.48,306.27 L158.91,306.27 L159.33,306.27 L159.76,306.26 L160.19,306.26 L160.61,306.25 L161.04,306.25 L161.47,306.25 L161.89,306.24 L162.32,306.24 L162.75,306.23 L163.17,306.23 L163.60,306.23 L164.03,306.22 L164.45,306.22 L164.88,306.21 L165.31,306.21 L165.74,306.20 L166.16,306.20 L166.59,306.19 L167.02,306.19 L167.44,306.19 L167.87,306.18 L168.30,306.18 L168.72,306.17 L169.15,306.16 L169.58,306.16 L170.00,306.15 L170.43,306.15 L170.86,306.14 L171.28,306.14 L171.71,306.13 L172.14,306.13 L172.56,306.12 L172.99,306.11 L173.42,306.11 L173.84,306.10 L174.27,306.09 L174.70,306.09 L175.12,306.08 L175.55,306.07 L175.98,306.07 L176.41,306.06 L176.83,306.05 L177.26,306.05 L177.69,306.04 L178.11,306.03 L178.54,306.02 L178.97,306.01 L179.39,306.01 L179.82,306.00 L180.25,305.99 L180.67,305.98 L181.10,305.97 L181.53,305.96 L181.95,305.95 L182.38,305.94 L182.81,305.93 L183.23,305.92 L183.66,305.91 L184.09,305.90 L184.51,305.89 L184.94,305.88 L185.37,305.87 L185.79,305.86 L186.22,305.85 L186.65,305.83 L186.73,305.83 L186.90,305.83 L187.06,305.82 L187.08,305.82 L187.22,305.82 L187.39,305.81 L187.50,305.81 L187.55,305.81 L187.71,305.80 L187.87,305.80 L187.93,305.80 L188.03,305.79 L188.19,305.79 L188.35,305.78 L188.36,305.78 L188.51,305.78 L188.67,305.77 L188.78,305.77 L188.83,305.77 L188.99,305.76 L189.15,305.76 L189.21,305.75 L189.30,305.75 L189.46,305.75 L189.62,305.74 L189.64,305.74 L189.77,305.73 L189.93,305.73 L190.06,305.72 L190.09,305.72 L190.24,305.72 L190.39,305.71 L190.49,305.71 L190.55,305.71 L190.70,305.70 L190.86,305.69 L190.92,305.69 L191.01,305.69 L191.16,305.68 L191.31,305.68 L191.34,305.68 L191.47,305.67 L191.62,305.67 L191.77,305.66 L191.77,305.66 L191.92,305.65 L192.07,305.65 L192.20,305.64 L192.22,305.64 L192.37,305.63 L192.52,305.63 L192.62,305.62 L192.67,305.62 L192.81,305.62 L192.96,305.61 L193.05,305.61 L193.11,305.60 L193.26,305.60 L193.40,305.59 L193.48,305.59 L193.55,305.58 L193.69,305.58 L193.84,305.57 L193.90,305.57 L193.98,305.56 L194.13,305.56 L194.27,305.55 L194.33,305.55 L194.42,305.54 L194.56,305.53 L194.70,305.53 L194.76,305.52 L194.84,305.52 L194.99,305.51 L195.13,305.50 L195.18,305.50 L195.27,305.50 L195.41,305.49 L195.55,305.48 L195.61,305.48 L195.69,305.47 L195.83,305.47 L195.97,305.46 L196.04,305.46 L196.11,305.45 L196.25,305.44 L196.38,305.44 L196.46,305.43 L196.52,305.43 L196.66,305.42 L196.79,305.41 L196.89,305.41 L196.93,305.40 L197.07,305.40 L197.20,305.39 L197.32,305.38 L197.34,305.38 L197.47,305.37 L197.61,305.36 L197.74,305.35 L197.75,305.35 L197.87,305.34 L198.01,305.33 L198.14,305.33 L198.17,305.32 L198.27,305.32 L198.40,305.31 L198.53,305.30 L198.60,305.29 L198.66,305.29 L198.80,305.28 L198.93,305.27 L199.03,305.26 L199.06,305.26 L199.18,305.25 L199.31,305.24 L199.44,305.23 L199.45,305.23 L199.57,305.22 L199.70,305.21 L199.82,305.20 L199.88,305.20 L199.95,305.19 L200.08,305.18 L200.20,305.17 L200.31,305.16 L200.33,305.16 L200.45,305.15 L200.58,305.14 L200.70,305.13 L200.73,305.13 L200.83,305.12 L200.95,305.11 L201.07,305.09 L201.16,305.09 L201.20,305.08 L201.32,305.07 L201.44,305.06 L201.56,305.05 L201.59,305.05 L201.68,305.04 L201.80,305.03 L201.92,305.01 L202.01,305.00 L202.04,305.00 L202.16,304.99 L202.28,304.98 L202.40,304.96 L202.44,304.96 L202.52,304.95 L202.64,304.94 L202.75,304.92 L202.87,304.91 L202.87,304.91 L202.99,304.89 L203.10,304.88 L203.22,304.86 L203.29,304.86 L203.34,304.85 L203.45,304.83 L203.57,304.82 L203.68,304.80 L203.72,304.80 L203.79,304.79 L203.91,304.77 L204.02,304.76 L204.13,304.74 L204.15,304.74 L204.24,304.73 L204.36,304.71 L204.47,304.69 L204.57,304.68 L204.58,304.68 L204.69,304.66 L204.80,304.64 L204.91,304.63 L205.00,304.61 L205.02,304.61 L205.13,304.59 L205.23,304.57 L205.34,304.56 L205.43,304.54 L205.45,304.54 L205.56,304.52 L205.66,304.50 L205.77,304.48 L205.85,304.47 L205.88,304.46 L205.98,304.45 L206.09,304.43 L206.19,304.41 L206.28,304.39 L206.30,304.39 L206.40,304.37 L206.50,304.35 L206.61,304.33 L206.71,304.31 L206.81,304.29 L206.91,304.27 L207.01,304.25 L207.11,304.22 L207.13,304.22 L207.22,304.20 L207.32,304.18 L207.41,304.16 L207.51,304.14 L207.56,304.13 L207.61,304.11 L207.71,304.09 L207.81,304.07 L207.91,304.04 L207.99,304.02 L208.00,304.02 L208.10,304.00 L208.20,303.97 L208.29,303.95 L208.39,303.92 L208.42,303.92 L208.49,303.90 L208.58,303.87 L208.67,303.85 L208.77,303.82 L208.84,303.80 L208.86,303.79 L208.96,303.77 L209.05,303.74 L209.14,303.71 L209.23,303.69 L209.27,303.68 L209.32,303.66 L209.42,303.63 L209.51,303.60 L209.60,303.57 L209.69,303.54 L209.70,303.54 L209.78,303.51 L209.87,303.48 L209.95,303.45 L210.04,303.42 L210.12,303.39 L210.13,303.39 L210.22,303.36 L210.30,303.32 L210.39,303.29 L210.48,303.26 L210.55,303.23 L210.56,303.22 L210.65,303.19 L210.73,303.16 L210.82,303.12 L210.90,303.08 L210.98,303.05 L210.99,303.05 L211.07,303.01 L211.15,302.97 L211.24,302.94 L211.32,302.90 L211.40,302.86 L211.40,302.86 L211.48,302.82 L211.56,302.78 L211.64,302.74 L211.72,302.70 L211.80,302.66 L211.83,302.64 L211.88,302.61 L211.96,302.57 L212.04,302.53 L212.12,302.48 L212.19,302.44 L212.26,302.40 L212.27,302.39 L212.35,302.35 L212.42,302.30 L212.50,302.25 L212.58,302.20 L212.65,302.15 L212.68,302.13 L212.73,302.10 L212.80,302.05 L212.87,302.00 L212.95,301.95 L213.02,301.89 L213.09,301.84 L213.11,301.82 L213.17,301.78 L213.24,301.72 L213.31,301.67 L213.38,301.61 L213.45,301.55 L213.52,301.49 L213.54,301.48 L213.59,301.43 L213.66,301.36 L213.73,301.30 L213.80,301.24 L213.87,301.17 L213.93,301.10 L213.96,301.07 L214.00,301.03 L214.07,300.97 L214.14,300.89 L214.20,300.82 L214.27,300.75 L214.33,300.67 L214.39,300.61 L214.40,300.60 L214.46,300.52 L214.53,300.44 L214.59,300.36 L214.65,300.28 L214.72,300.19 L214.78,300.11 L214.82,300.05 L214.84,300.02 L214.90,299.93 L214.96,299.84 L215.02,299.75 L215.09,299.65 L215.15,299.56 L215.20,299.46 L215.24,299.39 L215.26,299.36 L215.32,299.26 L215.38,299.15 L215.44,299.05 L215.50,298.94 L215.55,298.83 L215.61,298.71 L215.67,298.60 L215.67,298.59 L215.72,298.48 L215.78,298.36 L215.83,298.23 L215.89,298.10 L215.94,297.97 L216.00,297.84 L216.05,297.71 L216.10,297.58 L216.10,297.57 L216.16,297.43 L216.21,297.28 L216.26,297.13 L216.31,296.98 L216.36,296.82 L216.41,296.66 L216.46,296.50 L216.51,296.33 L216.52,296.29 L216.56,296.16 L216.61,295.98 L216.66,295.80 L216.71,295.62 L216.76,295.43 L216.80,295.23 L216.85,295.03 L216.90,294.82 L216.94,294.61 L216.95,294.57 L216.99,294.40 L217.03,294.17 L217.08,293.95 L217.12,293.71 L217.17,293.47 L217.21,293.22 L217.25,292.97 L217.30,292.70 L217.34,292.43 L217.38,292.17 L217.38,292.15 L217.42,291.87 L217.46,291.57 L217.50,291.27 L217.54,290.96 L217.58,290.63 L217.62,290.30 L217.66,289.96 L217.70,289.60 L217.74,289.24 L217.78,288.86 L217.80,288.58 L217.82,288.47 L217.85,288.07 L217.89,287.65 L217.93,287.22 L217.96,286.78 L218.00,286.32 L218.03,285.84 L218.07,285.35 L218.10,284.84 L218.13,284.31 L218.17,283.76 L218.20,283.19 L218.23,282.64 L218.23,282.60 L218.27,281.99 L218.30,281.36 L218.33,280.70 L218.36,280.01 L218.39,279.30 L218.42,278.56 L218.45,277.79 L218.48,276.98 L218.51,276.15 L218.54,275.27 L218.56,274.37 L218.59,273.42 L218.62,272.43 L218.65,271.39 L218.66,270.91 L218.67,270.31 L218.70,269.19 L218.72,268.01 L218.75,266.77 L218.77,265.47 L218.80,264.12 L218.82,262.70 L218.85,261.21 L218.87,259.64 L218.89,258.00 L218.91,256.27 L218.94,254.46 L218.96,252.55 L218.98,250.53 L219.00,248.42 L219.02,246.19 L219.04,243.84 L219.06,241.37 L219.08,238.75 L219.09,237.79 L219.10,236.00 L219.12,233.09 L219.13,230.03 L219.15,226.79 L219.17,223.37 L219.18,219.77 L219.20,215.97 L219.22,211.99 L219.23,207.78 L219.25,203.34 L219.26,198.70 L219.28,193.83 L219.29,188.77 L219.30,183.47 L219.32,177.94 L219.33,172.26 L219.34,166.38 L219.35,160.42 L219.36,154.32 L219.37,148.12 L219.38,141.97 L219.39,135.82 L219.40,129.85 L219.41,124.01 L219.42,118.37 L219.43,113.10 L219.44,108.15 L219.45,103.67 L219.45,99.58 L219.46,95.93 L219.47,92.80 L219.47,90.10 L219.48,87.88 L219.48,86.05 L219.49,84.57 L219.49,83.45 L219.50,82.59 L219.50,81.99 L219.50,81.56 L219.50,81.27 L219.51,81.11 L219.51,81.01 L219.51,80.97 L219.51,80.95 L219.51,80.95 L219.51,80.95 L219.51,80.95 L219.51,80.95 L219.51,80.97 L219.52,81.01 L219.52,81.11 L219.52,81.27 L219.52,81.56 L219.53,81.99 L219.53,82.59 L219.53,83.45 L219.54,84.57 L219.54,86.05 L219.55,87.88 L219.55,90.10 L219.56,92.80 L219.56,95.94 L219.57,99.60 L219.58,103.68 L219.59,108.17 L219.59,113.13 L219.60,118.41 L219.61,124.05 L219.62,129.90 L219.63,135.88 L219.64,142.03 L219.65,148.19 L219.66,154.40 L219.67,160.51 L219.68,166.48 L219.70,172.37 L219.71,178.05 L219.72,183.59 L219.74,188.89 L219.75,193.96 L219.76,198.84 L219.78,203.48 L219.79,207.93 L219.81,212.14 L219.82,216.12 L219.84,219.93 L219.86,223.53 L219.87,226.96 L219.89,230.20 L219.91,233.26 L219.93,236.17 L219.94,237.96 L219.95,238.92 L219.96,241.54 L219.98,244.02 L220.00,246.36 L220.02,248.60 L220.04,250.71 L220.07,252.73 L220.09,254.64 L220.11,256.45 L220.13,258.18 L220.15,259.82 L220.18,261.39 L220.20,262.88 L220.23,264.30 L220.25,265.66 L220.27,266.95 L220.30,268.19 L220.33,269.37 L220.35,270.50 L220.37,271.10 L220.38,271.58 L220.40,272.61 L220.43,273.60 L220.46,274.55 L220.49,275.46 L220.52,276.33 L220.54,277.16 L220.57,277.97 L220.60,278.74 L220.63,279.48 L220.66,280.19 L220.70,280.88 L220.73,281.54 L220.76,282.17 L220.79,282.78 L220.79,282.81 L220.82,283.37 L220.86,283.94 L220.89,284.49 L220.92,285.01 L220.96,285.52 L220.99,286.01 L221.03,286.49 L221.06,286.95 L221.10,287.39 L221.13,287.82 L221.17,288.24 L221.21,288.64 L221.22,288.75 L221.25,289.03 L221.28,289.40 L221.32,289.77 L221.36,290.12 L221.40,290.46 L221.44,290.80 L221.48,291.12 L221.52,291.43 L221.56,291.73 L221.60,292.03 L221.64,292.31 L221.65,292.33 L221.69,292.59 L221.73,292.86 L221.77,293.12 L221.81,293.37 L221.86,293.62 L221.90,293.86 L221.95,294.10 L221.99,294.32 L222.04,294.55 L222.07,294.72 L222.08,294.76 L222.13,294.97 L222.17,295.18 L222.22,295.37 L222.27,295.57 L222.32,295.76 L222.36,295.94 L222.41,296.12 L222.46,296.30 L222.50,296.43 L222.51,296.47 L222.56,296.63 L222.61,296.80 L222.66,296.96 L222.71,297.11 L222.76,297.26 L222.82,297.41 L222.87,297.55 L222.92,297.69 L222.93,297.71 L222.97,297.83 L223.03,297.97 L223.08,298.10 L223.14,298.23 L223.19,298.35 L223.25,298.47 L223.30,298.59 L223.35,298.70 L223.36,298.71 L223.41,298.83 L223.47,298.94 L223.53,299.05 L223.58,299.16 L223.64,299.26 L223.70,299.37 L223.76,299.47 L223.78,299.50 L223.82,299.57 L223.88,299.66 L223.94,299.76 L224.00,299.85 L224.06,299.94 L224.12,300.03 L224.18,300.12 L224.21,300.15 L224.25,300.20 L224.31,300.29 L224.37,300.37 L224.43,300.45 L224.50,300.53 L224.56,300.61 L224.63,300.68 L224.63,300.69 L224.69,300.76 L224.76,300.83 L224.82,300.90 L224.89,300.97 L224.96,301.04 L225.02,301.11 L225.06,301.15 L225.09,301.18 L225.16,301.24 L225.23,301.31 L225.29,301.37 L225.36,301.43 L225.43,301.49 L225.49,301.54 L225.50,301.55 L225.57,301.61 L225.64,301.67 L225.71,301.73 L225.79,301.78 L225.86,301.84 L225.91,301.88 L225.93,301.89 L226.00,301.94 L226.08,301.99 L226.15,302.05 L226.22,302.10 L226.30,302.15 L226.34,302.17 L226.37,302.19 L226.45,302.24 L226.52,302.29 L226.60,302.33 L226.68,302.38 L226.75,302.42 L226.77,302.43 L226.83,302.47 L226.91,302.51 L226.99,302.55 L227.06,302.60 L227.14,302.64 L227.19,302.66 L227.22,302.68 L227.30,302.72 L227.38,302.76 L227.46,302.80 L227.54,302.83 L227.62,302.87 L227.62,302.87 L227.71,302.91 L227.79,302.94 L227.87,302.98 L227.95,303.01 L228.04,303.05 L228.05,303.05 L228.12,303.08 L228.21,303.12 L228.29,303.15 L228.38,303.18 L228.46,303.21 L228.47,303.22 L228.55,303.25 L228.63,303.28 L228.72,303.31 L228.81,303.34 L228.89,303.37 L228.90,303.37 L228.98,303.40 L229.07,303.43 L229.16,303.46 L229.25,303.48 L229.33,303.51 L229.34,303.51 L229.43,303.54 L229.52,303.57 L229.61,303.59 L229.70,303.62 L229.76,303.63 L229.79,303.64 L229.88,303.67 L229.98,303.69 L230.07,303.72 L230.16,303.74 L230.18,303.75 L230.26,303.77 L230.35,303.79 L230.44,303.81 L230.54,303.84 L230.61,303.85 L230.63,303.86 L230.73,303.88 L230.83,303.90 L230.92,303.93 L231.02,303.95 L231.04,303.95 L231.12,303.97 L231.21,303.99 L231.31,304.01 L231.41,304.03 L231.46,304.04 L231.51,304.05 L231.61,304.07 L231.71,304.09 L231.81,304.11 L231.89,304.12 L231.91,304.13 L232.01,304.15 L232.11,304.17 L232.21,304.18 L232.32,304.20 L232.42,304.22 L232.52,304.24 L232.63,304.26 L232.73,304.27 L232.74,304.27 L232.83,304.29 L232.94,304.31 L233.04,304.32 L233.15,304.34 L233.17,304.34 L233.25,304.35 L233.36,304.37 L233.47,304.39 L233.57,304.40 L233.60,304.40 L233.68,304.42 L233.79,304.43 L233.90,304.45 L234.01,304.46 L234.02,304.46 L234.12,304.48 L234.23,304.49 L234.34,304.50 L234.45,304.52 L234.45,304.52 L234.56,304.53 L234.67,304.55 L234.78,304.56 L234.88,304.57 L234.89,304.57 L235.00,304.59 L235.12,304.60 L235.23,304.61 L235.30,304.62 L235.34,304.62 L235.46,304.64 L235.57,304.65 L235.69,304.66 L235.73,304.67 L235.80,304.67 L235.92,304.69 L236.04,304.70 L236.15,304.71 L236.16,304.71 L236.27,304.72 L236.39,304.73 L236.50,304.74 L236.58,304.75 L236.62,304.75 L236.74,304.77 L236.86,304.78 L236.98,304.79 L237.01,304.79 L237.10,304.80 L237.22,304.81 L237.34,304.82 L237.44,304.83 L237.46,304.83 L237.58,304.85 L237.70,304.86 L237.83,304.87 L237.86,304.87 L237.95,304.88 L238.07,304.89 L238.20,304.90 L238.29,304.91 L238.32,304.91 L238.44,304.92 L238.57,304.93 L238.69,304.94 L238.72,304.94 L238.82,304.95 L238.95,304.96 L239.07,304.97 L239.14,304.98 L239.20,304.98 L239.33,304.99 L239.45,305.00 L239.57,305.01 L239.58,305.01 L239.71,305.02 L239.84,305.03 L239.97,305.04 L240.00,305.04 L240.10,305.05 L240.23,305.05 L240.36,305.06 L240.43,305.07 L240.49,305.07 L240.62,305.08 L240.75,305.09 L240.85,305.10 L240.89,305.10 L241.02,305.11 L241.15,305.11 L241.28,305.12 L241.28,305.12 L241.42,305.13 L241.55,305.14 L241.69,305.15 L241.71,305.15 L241.82,305.15 L241.96,305.16 L242.09,305.17 L242.13,305.17 L242.23,305.18 L242.37,305.19 L242.50,305.19 L242.56,305.20 L242.64,305.20 L242.78,305.21 L242.92,305.22 L242.99,305.22 L243.06,305.22 L243.19,305.23 L243.33,305.24 L243.41,305.24 L243.47,305.24 L243.61,305.25 L243.75,305.26 L243.84,305.26 L243.90,305.26 L244.04,305.27 L244.18,305.28 L244.27,305.28 L244.32,305.29 L244.46,305.29 L244.61,305.30 L244.69,305.30 L244.75,305.30 L244.90,305.31 L245.04,305.32 L245.12,305.32 L245.18,305.32 L245.33,305.33 L245.48,305.34 L245.55,305.34 L245.62,305.34 L245.77,305.35 L245.92,305.35 L245.97,305.36 L246.06,305.36 L246.21,305.37 L246.36,305.37 L246.40,305.37 L246.51,305.38 L246.66,305.38 L246.81,305.39 L246.83,305.39 L246.95,305.39 L247.10,305.40 L247.25,305.41 L247.26,305.41 L247.41,305.41 L247.56,305.42 L247.68,305.42 L247.71,305.42 L247.86,305.43 L248.01,305.43 L248.11,305.44 L248.17,305.44 L248.32,305.44 L248.47,305.45 L248.53,305.45 L248.63,305.45 L248.78,305.46 L248.94,305.46 L248.96,305.46 L249.09,305.47 L249.25,305.47 L249.39,305.48 L249.41,305.48 L249.56,305.48 L249.72,305.49 L249.81,305.49 L249.88,305.49 L250.04,305.50 L250.19,305.50 L250.24,305.50 L250.35,305.51 L250.51,305.51 L250.67,305.52 L250.67,305.52 L250.83,305.52 L250.99,305.52 L251.10,305.53 L251.15,305.53 L251.31,305.53 L251.48,305.54 L251.52,305.54 L251.64,305.54 L251.80,305.55 L251.95,305.55 L251.96,305.55 L252.13,305.55 L252.29,305.56 L252.38,305.56 L252.80,305.57 L253.23,305.58 L253.66,305.59 L254.08,305.60 L254.51,305.61 L254.94,305.62 L255.36,305.63 L255.79,305.64 L256.22,305.64 L256.64,305.65 L257.07,305.66 L257.50,305.67 L257.92,305.68 L258.35,305.68 L258.78,305.69 L259.20,305.70 L259.63,305.70 L260.06,305.71 L260.48,305.72 L260.91,305.72 L261.34,305.73 L261.77,305.73 L262.19,305.74 L262.62,305.75 L263.05,305.75 L263.47,305.76 L263.90,305.76 L264.33,305.77 L264.75,305.77 L265.18,305.78 L265.61,305.78 L266.03,305.79 L266.46,305.79 L266.89,305.79 L267.31,305.80 L267.74,305.80 L268.17,305.81 L268.59,305.81 L269.02,305.81 L269.45,305.82 L269.87,305.82 L270.30,305.83 L270.73,305.83 L271.15,305.83 L271.58,305.84 L272.01,305.84 L272.44,305.84 L272.86,305.85 L273.29,305.85 L273.72,305.85 L274.14,305.85 L274.57,305.86 L275.00,305.86 L275.42,305.86 L275.85,305.87 L276.28,305.87 L276.70,305.87 L277.13,305.87 L277.56,305.87 L277.98,305.88 L278.41,305.88 L278.84,305.88 L279.26,305.88 L279.69,305.89 L280.12,305.89 L280.54,305.89 L280.97,305.89 L281.40,305.89 L281.82,305.90 L282.25,305.90 L282.68,305.90 L283.11,305.90 L283.53,305.90 L283.96,305.90 L284.39,305.90 L284.81,305.91 L285.24,305.91 L285.67,305.91 L286.09,305.91 L286.52,305.91 L286.95,305.91 L287.37,305.91 L287.80,305.92 L288.23,305.92 L288.65,305.92 L289.08,305.91 L289.51,305.91 L289.93,305.91 L290.36,305.91 L290.79,305.91 L291.21,305.91 L291.64,305.91 L292.07,305.91 L292.49,305.91 L292.92,305.91 L293.35,305.91 L293.78,305.91 L294.20,305.91 L294.63,305.91 L295.06,305.91 L295.48,305.90 L295.91,305.90 L296.34,305.90 L296.76,305.90 L297.19,305.90 L297.62,305.90 L298.04,305.90 L298.47,305.90 L298.90,305.90 L299.32,305.90 L299.75,305.89 L300.18,305.89 L300.60,305.89 L301.03,305.89 L301.46,305.89 L301.88,305.89 L302.31,305.89 L302.74,305.89 L303.16,305.89 L303.59,305.88 L304.02,305.88 L304.45,305.88 L304.87,305.88 L305.30,305.88 L305.73,305.88 L306.15,305.88 L306.58,305.87 L307.01,305.87 L307.43,305.87 L307.86,305.87 L308.29,305.87 L308.71,305.87 L309.14,305.86 L309.57,305.86 L309.99,305.86 L310.42,305.86 L310.85,305.86 L311.27,305.86 L311.70,305.86 L312.13,305.85 L312.55,305.85 L312.98,305.85 L313.41,305.85 L313.83,305.85 L314.26,305.84 L314.69,305.84 L315.12,305.84 L315.54,305.84 L315.97,305.84 L316.40,305.84 L316.82,305.83 L317.25,305.83 L317.68,305.83 L318.10,305.83 L318.53,305.83 L318.96,305.82 L319.38,305.82 L319.81,305.82 L320.24,305.82 L320.66,305.82 L321.09,305.81 L321.52,305.81 L321.94,305.81 L322.37,305.81 L322.80,305.81 L323.22,305.80 L323.65,305.80 L324.08,305.80 L324.50,305.80 L324.93,305.80 L325.36,305.79 L325.79,305.79 L326.21,305.79 L326.64,305.79 L327.07,305.79 L327.49,305.78 L327.92,305.78 L328.35,305.78 L328.77,305.78 L329.20,305.77 L329.63,305.77 L330.05,305.77 L330.48,305.77 L330.91,305.77 L331.33,305.76 L331.76,305.76 L332.19,305.76 L332.61,305.76 L333.04,305.75 L333.47,305.75 L333.89,305.75 L334.32,305.75 L334.75,305.74 L335.17,305.74 L335.60,305.74 L336.03,305.74 L336.46,305.73 L336.88,305.73 L337.31,305.73 L337.74,305.73 L338.16,305.72 L338.59,305.72 L339.02,305.72 L339.44,305.72 L339.87,305.71 L340.30,305.71 L340.72,305.71 L341.15,305.71 L341.58,305.70 L342.00,305.70 L342.43,305.70 L342.86,305.70 L343.28,305.69 L343.71,305.69 L344.14,305.69 L344.56,305.69 L344.99,305.68 L345.42,305.68 L345.84,305.68 L346.27,305.68 L346.70,305.67 L347.13,305.67 L347.55,305.67 L347.98,305.67 L348.41,305.66 L348.83,305.66 L349.26,305.66 L349.69,305.65 L350.11,305.65 L350.54,305.65 L350.97,305.65 L351.39,305.64 L351.82,305.64 L352.25,305.64 L352.67,305.63 L353.10,305.63 L353.53,305.63 L353.95,305.63 L354.38,305.62 L354.81,305.62 L355.23,305.62 L355.66,305.62 L356.09,305.61 L356.51,305.61 L356.94,305.61 L357.37,305.60 L357.80,305.60 L358.22,305.60 L358.65,305.59 L359.08,305.59 L359.50,305.59 L359.93,305.59 L360.36,305.58 L360.78,305.58 L361.21,305.58 L361.64,305.57 L362.06,305.57 L362.49,305.57 L362.92,305.56 L363.34,305.56 L363.77,305.56 L364.20,305.56 L364.62,305.55 L365.05,305.55 L365.48,305.55 L365.90,305.54 L366.33,305.54 L366.76,305.54 L367.18,305.53 L367.61,305.53 L368.04,305.53 L368.47,305.52 L368.89,305.52 L369.32,305.52 L369.75,305.51 L370.17,305.51 L370.60,305.51 L371.03,305.50 L371.45,305.50 L371.88,305.50 L372.31,305.49 L372.73,305.49 L373.16,305.49 L373.59,305.48 L374.01,305.48 L374.44,305.48 L374.87,305.47 L375.29,305.47 L375.72,305.47 L376.15,305.46 L376.57,305.46 L377.00,305.46 L377.43,305.45 L377.85,305.45 L378.28,305.45 L378.71,305.44 L379.14,305.44 L379.56,305.44 L379.99,305.43 L380.42,305.43 L380.84,305.43 L381.27,305.42 L381.70,305.42 L382.12,305.42 L382.55,305.41 L382.98,305.41 L383.40,305.40 L383.83,305.40 L384.26,305.40 L384.68,305.39 L385.11,305.39 L385.54,305.39 L385.96,305.38 L386.39,305.38 L386.82,305.38 L387.24,305.37 L387.67,305.37 L388.10,305.36 L388.52,305.36 L388.95,305.36 L389.38,305.35 L389.81,305.35 L390.23,305.34 L390.66,305.34 L391.09,305.34 L391.51,305.33 L391.94,305.33 L392.37,305.33 L392.79,305.32 L393.22,305.32 L393.65,305.31 L394.07,305.31 L394.50,305.31 L394.93,305.30 L395.35,305.30 L395.78,305.29 L396.21,305.29 L396.63,305.28 L397.06,305.28 L397.49,305.28 L397.91,305.27 L398.34,305.27 L398.77,305.26 L399.19,305.26 L399.62,305.25 L400.05,305.25 L400.48,305.25 L400.90,305.24 L401.33,305.24 L401.76,305.23 L402.18,305.23 L402.61,305.22 L403.04,305.22 L403.46,305.21 L403.89,305.21 L404.32,305.21 L404.74,305.20 L405.17,305.20 L405.60,305.19 L406.02,305.19 L406.45,305.18 L406.88,305.18 L407.30,305.17 L407.73,305.17 L408.16,305.16 L408.58,305.16 L409.01,305.15 L409.44,305.15 L409.86,307.01 L410.29,307.01 L410.72,307.01 L411.15,307.01 L411.57,307.00 L412.00,307.00 L412.43,307.00 L412.85,307.00 L413.28,306.99 L413.71,306.99 L414.13,306.99 L414.56,306.99 L414.99,306.98 L415.41,306.98 L415.84,306.98 L416.27,306.97 L416.69,306.97 L417.12,306.97 L417.55,306.97 L417.97,306.96 L418.40,306.96 L418.83,306.96 L419.25,306.95 L419.68,306.95 L420.11,306.95 L420.53,306.94 L420.96,306.94 L421.39,306.94 L421.82,306.93 L422.24,306.93 L422.67,306.93 L423.10,306.92 L423.52,306.92 L423.95,306.92 L424.38,306.91 L424.80,306.91 L425.23,306.90 L425.66,306.90 L426.08,306.90 L426.51,306.89 L426.94,306.89 L427.36,306.88 L427.79,306.88 L428.22,306.87 L428.64,306.87 L429.07,306.87 L429.50,306.86 L429.92,306.86 L430.35,306.85 L430.78,306.85 L431.20,306.84 L431.63,306.84 L432.06,306.83 L432.49,306.82 L432.91,306.82 L433.34,306.81 L433.77,306.81 L434.19,306.80 L434.62,306.80 L435.05,306.79 L435.47,306.78 L435.90,306.78 L436.33,306.77 L436.75,306.77 L437.18,306.76 L437.61,306.75 L438.03,306.74 L438.46,306.74 L438.89,306.73 L439.31,306.72 L439.74,306.72 L440.17,306.71 L440.59,306.70 L441.02,306.69 L441.45,306.68 L441.87,306.67 L442.30,306.67 L442.73,306.66 L443.16,306.65 L443.58,306.64 L444.01,306.63 L444.44,306.62 L444.86,306.61 L445.29,306.60 L445.72,306.59 L446.14,306.58 L446.57,306.57 L447.00,306.56 L447.08,306.55 L447.25,306.55 L447.41,306.54 L447.42,306.54 L447.57,306.54 L447.73,306.53 L447.85,306.53 L447.90,306.53 L448.06,306.53 L448.22,306.52 L448.28,306.52 L448.38,306.52 L448.54,306.51 L448.70,306.51 L448.70,306.51 L448.86,306.50 L449.02,306.50 L449.13,306.49 L449.18,306.49 L449.34,306.49 L449.49,306.48 L449.56,306.48 L449.65,306.48 L449.81,306.47 L449.97,306.47 L449.98,306.47 L450.12,306.46 L450.28,306.46 L450.41,306.45 L450.43,306.45 L450.59,306.45 L450.74,306.44 L450.84,306.44 L450.90,306.43 L451.05,306.43 L451.20,306.42 L451.26,306.42 L451.36,306.42 L451.51,306.41 L451.66,306.41 L451.69,306.41 L451.81,306.40 L451.97,306.40 L452.12,306.39 L452.12,306.39 L452.27,306.38 L452.42,306.38 L452.54,306.37 L452.57,306.37 L452.72,306.37 L452.87,306.36 L452.97,306.36 L453.01,306.35 L453.16,306.35 L453.31,306.34 L453.40,306.34 L453.46,306.34 L453.60,306.33 L453.75,306.32 L453.83,306.32 L453.90,306.32 L454.04,306.31 L454.19,306.30 L454.25,306.30 L454.33,306.30 L454.48,306.29 L454.62,306.28 L454.68,306.28 L454.76,306.28 L454.91,306.27 L455.05,306.26 L455.11,306.26 L455.19,306.26 L455.33,306.25 L455.48,306.24 L455.53,306.24 L455.62,306.24 L455.76,306.23 L455.90,306.22 L455.96,306.22 L456.04,306.22 L456.18,306.21 L456.32,306.20 L456.39,306.20 L456.46,306.19 L456.59,306.19 L456.73,306.18 L456.81,306.17 L456.87,306.17 L457.01,306.16 L457.14,306.15 L457.24,306.15 L457.28,306.15 L457.41,306.14 L457.55,306.13 L457.67,306.12 L457.69,306.12 L457.82,306.11 L457.95,306.11 L458.09,306.10 L458.09,306.10 L458.22,306.09 L458.35,306.08 L458.49,306.07 L458.52,306.07 L458.62,306.06 L458.75,306.06 L458.88,306.05 L458.95,306.04 L459.01,306.04 L459.14,306.03 L459.27,306.02 L459.37,306.01 L459.40,306.01 L459.53,306.00 L459.66,305.99 L459.79,305.98 L459.80,305.98 L459.92,305.97 L460.05,305.96 L460.17,305.95 L460.23,305.95 L460.30,305.94 L460.43,305.93 L460.55,305.92 L460.65,305.92 L460.68,305.91 L460.80,305.90 L460.93,305.89 L461.05,305.88 L461.08,305.88 L461.18,305.87 L461.30,305.86 L461.42,305.85 L461.51,305.84 L461.54,305.84 L461.67,305.83 L461.79,305.82 L461.91,305.81 L461.93,305.81 L462.03,305.80 L462.15,305.79 L462.27,305.77 L462.36,305.77 L462.39,305.76 L462.51,305.75 L462.63,305.74 L462.75,305.73 L462.79,305.72 L462.87,305.72 L462.99,305.70 L463.10,305.69 L463.21,305.68 L463.22,305.68 L463.34,305.67 L463.45,305.65 L463.57,305.64 L463.64,305.63 L463.68,305.63 L463.80,305.61 L463.91,305.60 L464.03,305.59 L464.07,305.58 L464.14,305.57 L464.25,305.56 L464.37,305.55 L464.48,305.53 L464.50,305.53 L464.59,305.52 L464.70,305.50 L464.81,305.49 L464.92,305.47 L464.93,305.47 L465.04,305.46 L465.15,305.44 L465.26,305.43 L465.35,305.42 L465.36,305.41 L465.47,305.40 L465.58,305.38 L465.69,305.37 L465.78,305.35 L465.80,305.35 L465.90,305.33 L466.01,305.32 L466.12,305.30 L466.20,305.29 L466.22,305.29 L466.33,305.27 L466.43,305.25 L466.54,305.23 L466.63,305.22 L466.64,305.22 L466.75,305.20 L466.85,305.18 L466.95,305.16 L467.06,305.14 L467.16,305.12 L467.26,305.11 L467.36,305.09 L467.46,305.07 L467.48,305.06 L467.56,305.05 L467.66,305.03 L467.76,305.01 L467.86,304.99 L467.91,304.98 L467.96,304.97 L468.06,304.95 L468.16,304.92 L468.26,304.90 L468.34,304.89 L468.35,304.88 L468.45,304.86 L468.55,304.84 L468.64,304.81 L468.74,304.79 L468.76,304.79 L468.83,304.77 L468.93,304.75 L469.02,304.72 L469.12,304.70 L469.19,304.68 L469.21,304.67 L469.30,304.65 L469.40,304.62 L469.49,304.60 L469.58,304.57 L469.62,304.56 L469.67,304.55 L469.76,304.52 L469.85,304.49 L469.94,304.47 L470.03,304.44 L470.04,304.44 L470.12,304.41 L470.21,304.38 L470.30,304.35 L470.39,304.33 L470.47,304.30 L470.48,304.30 L470.57,304.27 L470.65,304.24 L470.74,304.21 L470.83,304.17 L470.90,304.15 L470.91,304.14 L471.00,304.11 L471.08,304.08 L471.17,304.05 L471.25,304.01 L471.32,303.98 L471.33,303.98 L471.42,303.94 L471.50,303.91 L471.58,303.87 L471.67,303.84 L471.75,303.80 L471.75,303.80 L471.83,303.76 L471.91,303.73 L471.99,303.69 L472.07,303.65 L472.15,303.61 L472.18,303.60 L472.23,303.57 L472.31,303.53 L472.39,303.49 L472.46,303.45 L472.54,303.40 L472.60,303.37 L472.62,303.36 L472.70,303.32 L472.77,303.27 L472.85,303.23 L472.92,303.18 L473.00,303.13 L473.03,303.11 L473.07,303.08 L473.15,303.04 L473.22,302.99 L473.30,302.94 L473.37,302.89 L473.44,302.83 L473.46,302.82 L473.51,302.78 L473.59,302.73 L473.66,302.67 L473.73,302.62 L473.80,302.56 L473.87,302.50 L473.88,302.49 L473.94,302.45 L474.01,302.39 L474.08,302.33 L474.15,302.26 L474.21,302.20 L474.28,302.14 L474.31,302.11 L474.35,302.07 L474.42,302.01 L474.48,301.94 L474.55,301.87 L474.62,301.80 L474.68,301.73 L474.74,301.66 L474.75,301.66 L474.81,301.58 L474.87,301.51 L474.94,301.43 L475.00,301.35 L475.06,301.27 L475.13,301.19 L475.17,301.14 L475.19,301.11 L475.25,301.02 L475.31,300.94 L475.37,300.85 L475.43,300.76 L475.49,300.67 L475.55,300.57 L475.59,300.51 L475.61,300.48 L475.67,300.38 L475.73,300.28 L475.79,300.18 L475.84,300.07 L475.90,299.97 L475.96,299.86 L476.01,299.75 L476.02,299.74 L476.07,299.64 L476.13,299.52 L476.18,299.40 L476.24,299.28 L476.29,299.16 L476.34,299.03 L476.40,298.90 L476.45,298.78 L476.45,298.77 L476.50,298.63 L476.56,298.50 L476.61,298.35 L476.66,298.21 L476.71,298.06 L476.76,297.91 L476.81,297.75 L476.86,297.59 L476.87,297.56 L476.91,297.43 L476.96,297.26 L477.01,297.09 L477.06,296.92 L477.10,296.74 L477.15,296.55 L477.20,296.36 L477.24,296.17 L477.29,295.97 L477.30,295.93 L477.34,295.77 L477.38,295.56 L477.43,295.34 L477.47,295.12 L477.51,294.89 L477.56,294.66 L477.60,294.42 L477.64,294.17 L477.69,293.92 L477.73,293.67 L477.73,293.66 L477.77,293.39 L477.81,293.11 L477.85,292.83 L477.89,292.54 L477.93,292.24 L477.97,291.93 L478.01,291.61 L478.05,291.28 L478.09,290.95 L478.13,290.60 L478.15,290.34 L478.16,290.24 L478.20,289.87 L478.24,289.49 L478.27,289.10 L478.31,288.69 L478.34,288.27 L478.38,287.84 L478.41,287.39 L478.45,286.93 L478.48,286.46 L478.52,285.97 L478.55,285.46 L478.58,284.97 L478.58,284.94 L478.61,284.40 L478.65,283.84 L478.68,283.26 L478.71,282.66 L478.74,282.04 L478.77,281.40 L478.80,280.74 L478.83,280.05 L478.86,279.35 L478.88,278.61 L478.91,277.86 L478.94,277.07 L478.97,276.26 L478.99,275.42 L479.01,275.03 L479.02,274.55 L479.05,273.66 L479.07,272.73 L479.10,271.77 L479.12,270.78 L479.15,269.75 L479.17,268.70 L479.19,267.61 L479.22,266.48 L479.24,265.33 L479.26,264.13 L479.28,262.91 L479.31,261.65 L479.33,260.35 L479.35,259.03 L479.37,257.67 L479.39,256.29 L479.41,254.87 L479.43,253.43 L479.43,252.91 L479.45,251.97 L479.46,250.49 L479.48,249.00 L479.50,247.50 L479.52,245.98 L479.53,244.47 L479.55,242.96 L479.56,241.47 L479.58,239.99 L479.59,238.53 L479.61,237.10 L479.62,235.71 L479.64,234.37 L479.65,233.07 L479.66,231.81 L479.68,230.63 L479.69,229.50 L479.70,228.45 L479.71,227.46 L479.72,226.54 L479.73,225.70 L479.74,224.93 L479.75,224.24 L479.76,223.61 L479.77,223.04 L479.78,222.55 L479.79,222.12 L479.79,221.75 L479.80,221.43 L479.81,221.15 L479.81,220.93 L479.82,220.74 L479.83,220.59 L479.83,220.46 L479.84,220.37 L479.84,220.30 L479.84,220.24 L479.85,220.20 L479.85,220.18 L479.85,220.16 L479.85,220.15 L479.86,220.14 L479.86,220.14 L479.86,220.14 L479.86,220.14 L479.86,220.14 L479.86,220.14 L479.86,220.14 L479.86,220.14 L479.86,220.14 L479.87,220.15 L479.87,220.16 L479.87,220.18 L479.87,220.20 L479.88,220.24 L479.88,220.30 L479.88,220.37 L479.89,220.46 L479.89,220.59 L479.90,220.74 L479.91,220.93 L479.91,221.15 L479.92,221.43 L479.93,221.75 L479.93,222.12 L479.94,222.55 L479.95,223.05 L479.96,223.61 L479.97,224.24 L479.98,224.93 L479.99,225.70 L480.00,226.55 L480.01,227.47 L480.02,228.46 L480.03,229.51 L480.04,230.64 L480.06,231.82 L480.07,233.08 L480.08,234.38 L480.10,235.72 L480.11,237.12 L480.13,238.54 L480.14,240.01 L480.16,241.49 L480.17,242.98 L480.19,244.50 L480.20,246.01 L480.22,247.53 L480.24,249.03 L480.26,250.52 L480.27,252.01 L480.29,252.95 L480.29,253.47 L480.31,254.91 L480.33,256.33 L480.35,257.71 L480.37,259.07 L480.39,260.39 L480.41,261.69 L480.44,262.96 L480.46,264.18 L480.48,265.38 L480.50,266.53 L480.53,267.66 L480.55,268.75 L480.57,269.81 L480.60,270.83 L480.62,271.82 L480.65,272.79 L480.67,273.72 L480.70,274.61 L480.71,275.09 L480.73,275.48 L480.75,276.32 L480.78,277.13 L480.81,277.92 L480.84,278.68 L480.86,279.41 L480.89,280.12 L480.92,280.80 L480.95,281.47 L480.98,282.11 L481.01,282.73 L481.04,283.32 L481.07,283.90 L481.11,284.46 L481.14,285.00 L481.14,285.04 L481.17,285.53 L481.20,286.04 L481.24,286.53 L481.27,287.00 L481.31,287.46 L481.34,287.91 L481.38,288.34 L481.41,288.76 L481.45,289.17 L481.48,289.56 L481.52,289.94 L481.56,290.31 L481.57,290.41 L481.59,290.67 L481.63,291.02 L481.67,291.35 L481.71,291.68 L481.75,292.00 L481.79,292.31 L481.83,292.61 L481.87,292.90 L481.91,293.19 L481.95,293.46 L481.99,293.73 L481.99,293.75 L482.03,293.99 L482.08,294.24 L482.12,294.49 L482.16,294.73 L482.21,294.96 L482.25,295.19 L482.29,295.41 L482.34,295.63 L482.38,295.84 L482.42,296.00 L482.43,296.04 L482.48,296.24 L482.52,296.44 L482.57,296.63 L482.62,296.81 L482.66,296.99 L482.71,297.17 L482.76,297.34 L482.81,297.51 L482.85,297.63 L482.86,297.67 L482.91,297.83 L482.96,297.98 L483.01,298.14 L483.06,298.28 L483.11,298.43 L483.16,298.57 L483.22,298.71 L483.27,298.84 L483.27,298.86 L483.32,298.98 L483.38,299.11 L483.43,299.23 L483.48,299.36 L483.54,299.48 L483.59,299.59 L483.65,299.71 L483.70,299.82 L483.71,299.82 L483.76,299.93 L483.82,300.04 L483.88,300.15 L483.93,300.25 L483.99,300.35 L484.05,300.45 L484.11,300.55 L484.13,300.58 L484.17,300.65 L484.23,300.74 L484.29,300.83 L484.35,300.92 L484.41,301.01 L484.47,301.10 L484.53,301.18 L484.55,301.21 L484.59,301.27 L484.66,301.35 L484.72,301.43 L484.78,301.51 L484.85,301.58 L484.91,301.66 L484.97,301.73 L484.98,301.74 L485.04,301.81 L485.10,301.88 L485.17,301.95 L485.24,302.02 L485.30,302.08 L485.37,302.15 L485.41,302.19 L485.44,302.21 L485.51,302.28 L485.57,302.34 L485.64,302.40 L485.71,302.46 L485.78,302.52 L485.84,302.57 L485.85,302.58 L485.92,302.64 L485.99,302.70 L486.06,302.75 L486.13,302.81 L486.21,302.86 L486.26,302.90 L486.28,302.91 L486.35,302.96 L486.42,303.01 L486.50,303.06 L486.57,303.11 L486.65,303.16 L486.69,303.19 L486.72,303.21 L486.80,303.26 L486.87,303.30 L486.95,303.35 L487.02,303.39 L487.10,303.44 L487.12,303.45 L487.18,303.48 L487.26,303.52 L487.33,303.57 L487.41,303.61 L487.49,303.65 L487.54,303.67 L487.57,303.69 L487.65,303.73 L487.73,303.77 L487.81,303.80 L487.89,303.84 L487.97,303.88 L487.97,303.88 L488.05,303.92 L488.14,303.95 L488.22,303.99 L488.30,304.02 L488.39,304.06 L488.40,304.06 L488.47,304.09 L488.55,304.12 L488.64,304.16 L488.72,304.19 L488.81,304.22 L488.82,304.23 L488.89,304.25 L488.98,304.29 L489.07,304.32 L489.15,304.35 L489.24,304.38 L489.25,304.38 L489.33,304.41 L489.42,304.43 L489.51,304.46 L489.60,304.49 L489.68,304.52 L489.69,304.52 L489.78,304.55 L489.87,304.57 L489.96,304.60 L490.05,304.63 L490.10,304.64 L490.14,304.65 L490.23,304.68 L490.32,304.70 L490.42,304.73 L490.51,304.75 L490.53,304.76 L490.60,304.78 L490.70,304.80 L490.79,304.83 L490.89,304.85 L490.96,304.87 L490.98,304.87 L491.08,304.90 L491.17,304.92 L491.27,304.94 L491.37,304.96 L491.38,304.97 L491.46,304.99 L491.56,305.01 L491.66,305.03 L491.76,305.05 L491.81,305.06 L491.86,305.07 L491.96,305.09 L492.06,305.11 L492.16,305.13 L492.24,305.15 L492.26,305.15 L492.36,305.17 L492.46,305.19 L492.56,305.21 L492.66,305.23 L492.77,305.24 L492.87,305.26 L492.97,305.28 L493.08,305.30 L493.09,305.30 L493.18,305.32 L493.29,305.33 L493.39,305.35 L493.50,305.37 L493.52,305.37 L493.60,305.39 L493.71,305.40 L493.82,305.42 L493.92,305.43 L493.94,305.44 L494.03,305.45 L494.14,305.47 L494.25,305.48 L494.36,305.50 L494.37,305.50 L494.46,305.51 L494.57,305.53 L494.68,305.54 L494.79,305.56 L494.80,305.56 L494.91,305.57 L495.02,305.59 L495.13,305.60 L495.22,305.61 L495.24,305.62 L495.35,305.63 L495.47,305.64 L495.58,305.66 L495.65,305.67 L495.69,305.67 L495.81,305.69 L495.92,305.70 L496.04,305.71 L496.08,305.72 L496.15,305.73 L496.27,305.74 L496.38,305.75 L496.50,305.76 L496.51,305.76 L496.62,305.78 L496.73,305.79 L496.85,305.80 L496.93,305.81 L496.97,305.81 L497.09,305.83 L497.21,305.84 L497.33,305.85 L497.36,305.85 L497.45,305.86 L497.57,305.87 L497.69,305.88 L497.79,305.89 L497.81,305.89 L497.93,305.91 L498.05,305.92 L498.18,305.93 L498.21,305.93 L498.30,305.94 L498.42,305.95 L498.54,305.96 L498.64,305.97 L498.67,305.97 L498.79,305.98 L498.92,305.99 L499.04,306.00 L499.07,306.00 L499.17,306.01 L499.29,306.02 L499.42,306.03 L499.49,306.04 L499.55,306.04 L499.67,306.05 L499.80,306.06 L499.92,306.07 L499.93,306.07 L500.06,306.08 L500.19,306.09 L500.32,306.10 L500.35,306.10 L500.45,306.11 L500.58,306.12 L500.71,306.13 L500.77,306.13 L500.84,306.14 L500.97,306.14 L501.10,306.15 L501.20,306.16" fill="none" stroke="#ffc000" stroke-width="2.2" stroke-linejoin="round"/>
<rect x="300.6" y="24.6" width="191.6" height="50.8" fill="#fff" stroke="#5a5a5a" stroke-width="1"/>
<line x1="304.9" y1="32.7" x2="325.5" y2="32.7" stroke="#002060" stroke-width="1.8"/>
<line x1="304.9" y1="49.8" x2="325.5" y2="49.8" stroke="#c00000" stroke-width="1.8" stroke-dasharray="1.7 1.9"/>
<line x1="304.9" y1="67.1" x2="325.5" y2="67.1" stroke="#ffc000" stroke-width="1.8"/>
<text transform="translate(327.00,36.50) scale(1,1.070)" text-anchor="start" font-size="12.15" stroke-width="0.10" font-family="Liberation Serif" font-weight="bold" stroke="#000" >Experimental</text>
<text transform="translate(327.00,53.90) scale(1,1.070)" text-anchor="start" font-size="12.15" stroke-width="0.10" font-family="Liberation Serif" font-weight="bold" stroke="#000" >Simulated-With Point Mass</text>
<text transform="translate(327.00,70.90) scale(1,1.070)" text-anchor="start" font-size="12.15" stroke-width="0.10" font-family="Liberation Serif" font-weight="bold" stroke="#000" >Simulated-Without Point Mass</text>
<polyline points="86.6,292.2 91.9,297.5" stroke="#6a6a6a" stroke-width="0.8" fill="none"/>
<text transform="translate(80.50,288.00) scale(1,1.080)" text-anchor="start" font-size="13.60" stroke-width="0.10" font-family="Liberation Serif" font-weight="bold" stroke="#000" >21</text>
<polyline points="106.7,283.3 104.0,283.3 99.8,294.9" stroke="#6a6a6a" stroke-width="0.8" fill="none"/>
<text transform="translate(109.10,288.00) scale(1,1.080)" text-anchor="start" font-size="13.60" stroke-width="0.10" font-family="Liberation Serif" font-weight="bold" stroke="#000" >27</text>
<polyline points="104.8,241.3 97.1,246.4" stroke="#6a6a6a" stroke-width="0.8" fill="none"/>
<text transform="translate(92.80,237.00) scale(1,1.080)" text-anchor="start" font-size="13.60" stroke-width="0.10" font-family="Liberation Serif" font-weight="bold" stroke="#000" >25.5</text>
<polyline points="195.5,80.2 198.7,80.2 199.6,95.7" stroke="#6a6a6a" stroke-width="0.8" fill="none"/>
<text transform="translate(172.60,86.00) scale(1,1.080)" text-anchor="start" font-size="13.60" stroke-width="0.10" font-family="Liberation Serif" font-weight="bold" stroke="#000" >147</text>
<polyline points="217.4,61.2 219.6,79.5" stroke="#6a6a6a" stroke-width="0.8" fill="none"/>
<text transform="translate(207.60,56.90) scale(1,1.080)" text-anchor="start" font-size="13.60" stroke-width="0.10" font-family="Liberation Serif" font-weight="bold" stroke="#000" >170</text>
<polyline points="246.7,72.8 236.0,83.4" stroke="#6a6a6a" stroke-width="0.8" fill="none"/>
<text transform="translate(236.40,69.20) scale(1,1.080)" text-anchor="start" font-size="13.60" stroke-width="0.10" font-family="Liberation Serif" font-weight="bold" stroke="#000" >189</text>
<polyline points="435.5,199.1 438.5,199.1 440.5,211.8" stroke="#6a6a6a" stroke-width="0.8" fill="none"/>
<text transform="translate(411.30,205.30) scale(1,1.080)" text-anchor="start" font-size="13.60" stroke-width="0.10" font-family="Liberation Serif" font-weight="bold" stroke="#000" >429</text>
<polyline points="467.7,214.5 479.5,219.4" stroke="#6a6a6a" stroke-width="0.8" fill="none"/>
<text transform="translate(457.20,210.80) scale(1,1.080)" text-anchor="start" font-size="13.60" stroke-width="0.10" font-family="Liberation Serif" font-weight="bold" stroke="#000" >475</text>
<polyline points="479.3,183.3 496.2,212.9" stroke="#6a6a6a" stroke-width="0.8" fill="none"/>
<text transform="translate(463.50,179.10) scale(1,1.080)" text-anchor="start" font-size="13.60" stroke-width="0.10" font-family="Liberation Serif" font-weight="bold" stroke="#000" >493.5</text>
<defs>
<linearGradient id="g0" gradientUnits="userSpaceOnUse" x1="550" y1="0" x2="685" y2="0">
<stop offset="0.0667" stop-color="#c81e1e"/>
<stop offset="0.1185" stop-color="#c81e1e"/>
<stop offset="0.1704" stop-color="#cd8728"/>
<stop offset="0.2519" stop-color="#c3b628"/>
<stop offset="0.2963" stop-color="#c3b628"/>
<stop offset="0.3407" stop-color="#8cb928"/>
<stop offset="0.3926" stop-color="#2daa2d"/>
<stop offset="0.4370" stop-color="#2daa2d"/>
<stop offset="0.4741" stop-color="#28af82"/>
<stop offset="0.5185" stop-color="#28afbe"/>
<stop offset="0.5926" stop-color="#28afbe"/>
<stop offset="0.6519" stop-color="#2873c8"/>
<stop offset="0.7037" stop-color="#2873c8"/>
<stop offset="0.7407" stop-color="#2828b4"/>
<stop offset="0.9852" stop-color="#2828b4"/>
</linearGradient>
<linearGradient id="g1" gradientUnits="userSpaceOnUse" x1="550" y1="0" x2="685" y2="0">
<stop offset="0.0593" stop-color="#c3b628"/>
<stop offset="0.0815" stop-color="#2daa2d"/>
<stop offset="0.1185" stop-color="#28afbe"/>
<stop offset="0.1630" stop-color="#2828b4"/>
<stop offset="0.2000" stop-color="#2828b4"/>
<stop offset="0.2444" stop-color="#28afbe"/>
<stop offset="0.2963" stop-color="#2daa2d"/>
<stop offset="0.3407" stop-color="#c3b628"/>
<stop offset="0.3778" stop-color="#cd8728"/>
<stop offset="0.4074" stop-color="#c81e1e"/>
<stop offset="0.6074" stop-color="#c81e1e"/>
<stop offset="0.6519" stop-color="#cd8728"/>
<stop offset="0.7037" stop-color="#c3b628"/>
<stop offset="0.7481" stop-color="#2daa2d"/>
<stop offset="0.8074" stop-color="#28afbe"/>
<stop offset="0.8593" stop-color="#2873c8"/>
<stop offset="0.8889" stop-color="#2828b4"/>
<stop offset="0.9852" stop-color="#2828b4"/>
</linearGradient>
<linearGradient id="g2" gradientUnits="userSpaceOnUse" x1="550" y1="0" x2="685" y2="0">
<stop offset="0.0593" stop-color="#2daa2d"/>
<stop offset="0.0889" stop-color="#28afbe"/>
<stop offset="0.1259" stop-color="#2828b4"/>
<stop offset="0.1481" stop-color="#28afbe"/>
<stop offset="0.1852" stop-color="#2daa2d"/>
<stop offset="0.2222" stop-color="#8cb928"/>
<stop offset="0.2519" stop-color="#c3b628"/>
<stop offset="0.2741" stop-color="#cd8728"/>
<stop offset="0.2926" stop-color="#c81e1e"/>
<stop offset="0.3148" stop-color="#c81e1e"/>
<stop offset="0.3333" stop-color="#cd8728"/>
<stop offset="0.3630" stop-color="#c3b628"/>
<stop offset="0.3926" stop-color="#8cb928"/>
<stop offset="0.4148" stop-color="#2daa2d"/>
<stop offset="0.4519" stop-color="#28afbe"/>
<stop offset="0.4889" stop-color="#2828b4"/>
<stop offset="0.5259" stop-color="#28afbe"/>
<stop offset="0.5630" stop-color="#2daa2d"/>
<stop offset="0.5926" stop-color="#8cb928"/>
<stop offset="0.6148" stop-color="#cd8728"/>
<stop offset="0.6333" stop-color="#c81e1e"/>
<stop offset="0.7519" stop-color="#c81e1e"/>
<stop offset="0.7704" stop-color="#cd8728"/>
<stop offset="0.7926" stop-color="#c3b628"/>
<stop offset="0.8296" stop-color="#2daa2d"/>
<stop offset="0.8741" stop-color="#28afbe"/>
<stop offset="0.9148" stop-color="#2828b4"/>
<stop offset="0.9852" stop-color="#2828b4"/>
</linearGradient>
<linearGradient id="g3" gradientUnits="userSpaceOnUse" x1="550" y1="0" x2="685" y2="0">
<stop offset="0.0148" stop-color="#c81e1e"/>
<stop offset="0.0889" stop-color="#c81e1e"/>
<stop offset="0.1333" stop-color="#cd8728"/>
<stop offset="0.2000" stop-color="#c3b628"/>
<stop offset="0.2593" stop-color="#c3b628"/>
<stop offset="0.3037" stop-color="#8cb928"/>
<stop offset="0.3481" stop-color="#2daa2d"/>
<stop offset="0.4074" stop-color="#2daa2d"/>
<stop offset="0.4519" stop-color="#28af82"/>
<stop offset="0.5185" stop-color="#28afbe"/>
<stop offset="0.5778" stop-color="#28afbe"/>
<stop offset="0.6370" stop-color="#2873c8"/>
<stop offset="0.6963" stop-color="#2873c8"/>
<stop offset="0.7185" stop-color="#2828b4"/>
<stop offset="0.9778" stop-color="#2828b4"/>
</linearGradient>
<linearGradient id="g4" gradientUnits="userSpaceOnUse" x1="550" y1="0" x2="685" y2="0">
<stop offset="0.0296" stop-color="#c81e1e"/>
<stop offset="0.0519" stop-color="#cd8728"/>
<stop offset="0.0815" stop-color="#c3b628"/>
<stop offset="0.1185" stop-color="#8cb928"/>
<stop offset="0.1481" stop-color="#2daa2d"/>
<stop offset="0.1852" stop-color="#28afbe"/>
<stop offset="0.2222" stop-color="#2828b4"/>
<stop offset="0.2667" stop-color="#2828b4"/>
<stop offset="0.3037" stop-color="#28afbe"/>
<stop offset="0.3704" stop-color="#2daa2d"/>
<stop offset="0.4222" stop-color="#8cb928"/>
<stop offset="0.4815" stop-color="#c3b628"/>
<stop offset="0.6148" stop-color="#c3b628"/>
<stop offset="0.6519" stop-color="#8cb928"/>
<stop offset="0.7037" stop-color="#2daa2d"/>
<stop offset="0.7481" stop-color="#28af82"/>
<stop offset="0.7926" stop-color="#28afbe"/>
<stop offset="0.8444" stop-color="#2873c8"/>
<stop offset="0.8741" stop-color="#2828b4"/>
<stop offset="0.9778" stop-color="#2828b4"/>
</linearGradient>
<linearGradient id="g5" gradientUnits="userSpaceOnUse" x1="550" y1="0" x2="685" y2="0">
<stop offset="0.0222" stop-color="#c81e1e"/>
<stop offset="0.0370" stop-color="#cd8728"/>
<stop offset="0.0519" stop-color="#c3b628"/>
<stop offset="0.0815" stop-color="#2daa2d"/>
<stop offset="0.1111" stop-color="#28afbe"/>
<stop offset="0.1481" stop-color="#2828b4"/>
<stop offset="0.1778" stop-color="#28afbe"/>
<stop offset="0.2222" stop-color="#28afbe"/>
<stop offset="0.2593" stop-color="#2daa2d"/>
<stop offset="0.2889" stop-color="#8cb928"/>
<stop offset="0.3185" stop-color="#c3b628"/>
<stop offset="0.3556" stop-color="#8cb928"/>
<stop offset="0.3852" stop-color="#2daa2d"/>
<stop offset="0.4296" stop-color="#28afbe"/>
<stop offset="0.4889" stop-color="#2828b4"/>
<stop offset="0.5185" stop-color="#2828b4"/>
<stop offset="0.5630" stop-color="#28afbe"/>
<stop offset="0.6000" stop-color="#2daa2d"/>
<stop offset="0.6370" stop-color="#c3b628"/>
<stop offset="0.7704" stop-color="#c3b628"/>
<stop offset="0.8074" stop-color="#2daa2d"/>
<stop offset="0.8593" stop-color="#28afbe"/>
<stop offset="0.9037" stop-color="#2873c8"/>
<stop offset="0.9259" stop-color="#2828b4"/>
<stop offset="0.9852" stop-color="#2828b4"/>
</linearGradient>
</defs>
<rect x="519.5" y="0.5" width="164.2" height="375.6" fill="#fff" stroke="#a4a4a4" stroke-width="1"/>
<line x1="684.5" y1="0" x2="684.5" y2="378" stroke="#dcdcdc" stroke-width="1"/>
<line x1="519" y1="377.3" x2="685" y2="377.3" stroke="#e6e6e6" stroke-width="1.4"/>
<line x1="520" y1="61.30" x2="683.5" y2="61.30" stroke="#9a9a9a" stroke-width="1"/>
<line x1="520" y1="62.30" x2="683.5" y2="62.30" stroke="#dedede" stroke-width="1"/>
<line x1="520" y1="124.00" x2="683.5" y2="124.00" stroke="#9a9a9a" stroke-width="1"/>
<line x1="520" y1="125.00" x2="683.5" y2="125.00" stroke="#dedede" stroke-width="1"/>
<line x1="520" y1="184.50" x2="683.5" y2="184.50" stroke="#9a9a9a" stroke-width="1"/>
<line x1="520" y1="185.50" x2="683.5" y2="185.50" stroke="#dedede" stroke-width="1"/>
<line x1="520" y1="247.50" x2="683.5" y2="247.50" stroke="#9a9a9a" stroke-width="1"/>
<line x1="520" y1="248.50" x2="683.5" y2="248.50" stroke="#dedede" stroke-width="1"/>
<line x1="520" y1="312.45" x2="683.5" y2="312.45" stroke="#c4c4c4" stroke-width="1.6"/>
<text x="522.2" y="4.00" font-family="Liberation Sans" font-size="3.4" text-rendering="geometricPrecision" font-weight="bold" fill="#000" textLength="32.5" lengthAdjust="spacingAndGlyphs">B: Harmonic Response 6Ft. 5</text>
<text x="522.2" y="6.97" font-family="Liberation Sans" font-size="3.5" text-rendering="geometricPrecision"  fill="#111" textLength="19.0" lengthAdjust="spacingAndGlyphs">Total Deformation</text>
<text x="522.2" y="9.94" font-family="Liberation Sans" font-size="3.5" text-rendering="geometricPrecision"  fill="#111" textLength="25.0" lengthAdjust="spacingAndGlyphs">Type: Total Deformation</text>
<text x="522.2" y="12.91" font-family="Liberation Sans" font-size="3.5" text-rendering="geometricPrecision"  fill="#111" textLength="18.6" lengthAdjust="spacingAndGlyphs">Frequency: 21 Hz</text>
<text x="522.2" y="15.88" font-family="Liberation Sans" font-size="3.5" text-rendering="geometricPrecision"  fill="#111" textLength="22.0" lengthAdjust="spacingAndGlyphs">Sweeping Phase: 0 °</text>
<text x="522.2" y="18.85" font-family="Liberation Sans" font-size="3.5" text-rendering="geometricPrecision"  fill="#111" textLength="7.5" lengthAdjust="spacingAndGlyphs">Unit: m</text>
<text x="522.2" y="21.82" font-family="Liberation Sans" font-size="3.5" text-rendering="geometricPrecision"  fill="#111" textLength="14.7" lengthAdjust="spacingAndGlyphs">Max: 0.01076</text>
<text x="522.2" y="24.79" font-family="Liberation Sans" font-size="3.5" text-rendering="geometricPrecision"  fill="#111" textLength="7.1" lengthAdjust="spacingAndGlyphs">Min: 0</text>
<rect x="521.90" y="29.90" width="3.0" height="3.33" fill="#e10000"/>
<rect x="521.90" y="33.18" width="3.0" height="3.33" fill="#f58700"/>
<rect x="521.90" y="36.46" width="3.0" height="3.33" fill="#f0e100"/>
<rect x="521.90" y="39.73" width="3.0" height="3.33" fill="#a0e100"/>
<rect x="521.90" y="43.01" width="3.0" height="3.33" fill="#00cd00"/>
<rect x="521.90" y="46.29" width="3.0" height="3.33" fill="#00d796"/>
<rect x="521.90" y="49.57" width="3.0" height="3.33" fill="#00e6e6"/>
<rect x="521.90" y="52.84" width="3.0" height="3.33" fill="#0096eb"/>
<rect x="521.90" y="56.12" width="3.0" height="3.33" fill="#0000d7"/>
<text x="526.40" y="30.90" font-family="Liberation Sans" font-size="3.0" font-weight="bold" text-rendering="geometricPrecision" fill="#505050" textLength="9.8" lengthAdjust="spacingAndGlyphs">0.09999</text>
<text x="526.40" y="34.18" font-family="Liberation Sans" font-size="3.0" font-weight="bold" text-rendering="geometricPrecision" fill="#505050" textLength="9.8" lengthAdjust="spacingAndGlyphs">0.08899</text>
<text x="526.40" y="37.46" font-family="Liberation Sans" font-size="3.0" font-weight="bold" text-rendering="geometricPrecision" fill="#505050" textLength="9.8" lengthAdjust="spacingAndGlyphs">0.07799</text>
<text x="526.40" y="40.73" font-family="Liberation Sans" font-size="3.0" font-weight="bold" text-rendering="geometricPrecision" fill="#505050" textLength="9.8" lengthAdjust="spacingAndGlyphs">0.06699</text>
<text x="526.40" y="44.01" font-family="Liberation Sans" font-size="3.0" font-weight="bold" text-rendering="geometricPrecision" fill="#505050" textLength="9.8" lengthAdjust="spacingAndGlyphs">0.05599</text>
<text x="526.40" y="47.29" font-family="Liberation Sans" font-size="3.0" font-weight="bold" text-rendering="geometricPrecision" fill="#505050" textLength="9.8" lengthAdjust="spacingAndGlyphs">0.04499</text>
<text x="526.40" y="50.57" font-family="Liberation Sans" font-size="3.0" font-weight="bold" text-rendering="geometricPrecision" fill="#505050" textLength="9.8" lengthAdjust="spacingAndGlyphs">0.03399</text>
<text x="526.40" y="53.84" font-family="Liberation Sans" font-size="3.0" font-weight="bold" text-rendering="geometricPrecision" fill="#505050" textLength="9.8" lengthAdjust="spacingAndGlyphs">0.02299</text>
<text x="526.40" y="57.12" font-family="Liberation Sans" font-size="3.0" font-weight="bold" text-rendering="geometricPrecision" fill="#505050" textLength="9.8" lengthAdjust="spacingAndGlyphs">0.01199</text>
<text x="526.40" y="60.40" font-family="Liberation Sans" font-size="3.0" font-weight="bold" text-rendering="geometricPrecision" fill="#505050" textLength="1.7" lengthAdjust="spacingAndGlyphs">0</text>
<text transform="translate(561.60,8.20) scale(1.0000,1.0)" font-family="Liberation Serif" font-weight="bold" font-size="7.6" fill="#111">21 Hz (FE-With Point Mass)</text>
<line x1="559.0" y1="31.00" x2="680.0" y2="31.00" stroke="#dcdcdc" stroke-width="1.3"/>
<path d="M559.00,37.10 C561.67,36.87 569.00,36.18 575.00,35.70 C581.00,35.22 588.33,34.67 595.00,34.20 C601.67,33.73 608.33,33.28 615.00,32.90 C621.67,32.52 628.33,32.17 635.00,31.90 C641.67,31.63 647.07,31.45 655.00,31.30 C662.93,31.15 678.00,31.05 682.60,31.00" fill="none" stroke="url(#g0)" stroke-width="1.7" stroke-linecap="butt"/>
<text x="521.2" y="64.80" font-family="Liberation Sans" font-size="3.4" text-rendering="geometricPrecision" font-weight="bold" fill="#000" textLength="32.5" lengthAdjust="spacingAndGlyphs">B: Harmonic Response 6Ft. 5</text>
<text x="521.2" y="67.80" font-family="Liberation Sans" font-size="3.5" text-rendering="geometricPrecision"  fill="#111" textLength="19.0" lengthAdjust="spacingAndGlyphs">Total Deformation</text>
<text x="521.2" y="70.80" font-family="Liberation Sans" font-size="3.5" text-rendering="geometricPrecision"  fill="#111" textLength="25.0" lengthAdjust="spacingAndGlyphs">Type: Total Deformation</text>
<text x="521.2" y="73.80" font-family="Liberation Sans" font-size="3.5" text-rendering="geometricPrecision"  fill="#111" textLength="18.6" lengthAdjust="spacingAndGlyphs">Frequency: 147 Hz</text>
<text x="521.2" y="76.80" font-family="Liberation Sans" font-size="3.5" text-rendering="geometricPrecision"  fill="#111" textLength="22.0" lengthAdjust="spacingAndGlyphs">Sweeping Phase: 0 °</text>
<text x="521.2" y="79.80" font-family="Liberation Sans" font-size="3.5" text-rendering="geometricPrecision"  fill="#111" textLength="7.5" lengthAdjust="spacingAndGlyphs">Unit: m</text>
<text x="521.2" y="82.80" font-family="Liberation Sans" font-size="3.5" text-rendering="geometricPrecision"  fill="#111" textLength="14.7" lengthAdjust="spacingAndGlyphs">Max: 0.02175</text>
<text x="521.2" y="85.80" font-family="Liberation Sans" font-size="3.5" text-rendering="geometricPrecision"  fill="#111" textLength="7.1" lengthAdjust="spacingAndGlyphs">Min: 0</text>
<rect x="521.00" y="90.50" width="3.0" height="3.44" fill="#e10000"/>
<rect x="521.00" y="93.89" width="3.0" height="3.44" fill="#f58700"/>
<rect x="521.00" y="97.28" width="3.0" height="3.44" fill="#f0e100"/>
<rect x="521.00" y="100.67" width="3.0" height="3.44" fill="#a0e100"/>
<rect x="521.00" y="104.06" width="3.0" height="3.44" fill="#00cd00"/>
<rect x="521.00" y="107.44" width="3.0" height="3.44" fill="#00d796"/>
<rect x="521.00" y="110.83" width="3.0" height="3.44" fill="#00e6e6"/>
<rect x="521.00" y="114.22" width="3.0" height="3.44" fill="#0096eb"/>
<rect x="521.00" y="117.61" width="3.0" height="3.44" fill="#0000d7"/>
<text x="525.50" y="91.50" font-family="Liberation Sans" font-size="3.0" font-weight="bold" text-rendering="geometricPrecision" fill="#505050" textLength="9.8" lengthAdjust="spacingAndGlyphs">0.09999</text>
<text x="525.50" y="94.89" font-family="Liberation Sans" font-size="3.0" font-weight="bold" text-rendering="geometricPrecision" fill="#505050" textLength="9.8" lengthAdjust="spacingAndGlyphs">0.08899</text>
<text x="525.50" y="98.28" font-family="Liberation Sans" font-size="3.0" font-weight="bold" text-rendering="geometricPrecision" fill="#505050" textLength="9.8" lengthAdjust="spacingAndGlyphs">0.07799</text>
<text x="525.50" y="101.67" font-family="Liberation Sans" font-size="3.0" font-weight="bold" text-rendering="geometricPrecision" fill="#505050" textLength="9.8" lengthAdjust="spacingAndGlyphs">0.06699</text>
<text x="525.50" y="105.06" font-family="Liberation Sans" font-size="3.0" font-weight="bold" text-rendering="geometricPrecision" fill="#505050" textLength="9.8" lengthAdjust="spacingAndGlyphs">0.05599</text>
<text x="525.50" y="108.44" font-family="Liberation Sans" font-size="3.0" font-weight="bold" text-rendering="geometricPrecision" fill="#505050" textLength="9.8" lengthAdjust="spacingAndGlyphs">0.04499</text>
<text x="525.50" y="111.83" font-family="Liberation Sans" font-size="3.0" font-weight="bold" text-rendering="geometricPrecision" fill="#505050" textLength="9.8" lengthAdjust="spacingAndGlyphs">0.03399</text>
<text x="525.50" y="115.22" font-family="Liberation Sans" font-size="3.0" font-weight="bold" text-rendering="geometricPrecision" fill="#505050" textLength="9.8" lengthAdjust="spacingAndGlyphs">0.02299</text>
<text x="525.50" y="118.61" font-family="Liberation Sans" font-size="3.0" font-weight="bold" text-rendering="geometricPrecision" fill="#505050" textLength="9.8" lengthAdjust="spacingAndGlyphs">0.01199</text>
<text x="525.50" y="122.00" font-family="Liberation Sans" font-size="3.0" font-weight="bold" text-rendering="geometricPrecision" fill="#505050" textLength="1.7" lengthAdjust="spacingAndGlyphs">0</text>
<text transform="translate(561.10,71.20) scale(1.0095,1.0)" font-family="Liberation Serif" font-weight="bold" font-size="7.6" fill="#111">147 Hz (FE-With Point Mass)</text>
<line x1="558.0" y1="91.80" x2="680.0" y2="91.80" stroke="#dcdcdc" stroke-width="1.3"/>
<path d="M558.00,96.90 C559.50,96.45 564.10,95.05 567.00,94.20 C569.90,93.35 571.57,92.83 575.40,91.80 C579.23,90.77 585.07,88.97 590.00,88.00 C594.93,87.03 600.33,86.40 605.00,86.00 C609.67,85.60 613.50,85.53 618.00,85.60 C622.50,85.67 627.50,86.00 632.00,86.40 C636.50,86.80 640.67,87.43 645.00,88.00 C649.33,88.57 653.83,89.30 658.00,89.80 C662.17,90.30 665.90,90.68 670.00,91.00 C674.10,91.32 680.50,91.58 682.60,91.70" fill="none" stroke="url(#g1)" stroke-width="1.7" stroke-linecap="butt"/>
<text x="521.2" y="126.90" font-family="Liberation Sans" font-size="3.4" text-rendering="geometricPrecision" font-weight="bold" fill="#000" textLength="32.5" lengthAdjust="spacingAndGlyphs">B: Harmonic Response 6Ft. 5</text>
<text x="521.2" y="129.90" font-family="Liberation Sans" font-size="3.5" text-rendering="geometricPrecision"  fill="#111" textLength="19.0" lengthAdjust="spacingAndGlyphs">Total Deformation</text>
<text x="521.2" y="132.90" font-family="Liberation Sans" font-size="3.5" text-rendering="geometricPrecision"  fill="#111" textLength="25.0" lengthAdjust="spacingAndGlyphs">Type: Total Deformation</text>
<text x="521.2" y="135.90" font-family="Liberation Sans" font-size="3.5" text-rendering="geometricPrecision"  fill="#111" textLength="18.6" lengthAdjust="spacingAndGlyphs">Frequency: 429 Hz</text>
<text x="521.2" y="138.90" font-family="Liberation Sans" font-size="3.5" text-rendering="geometricPrecision"  fill="#111" textLength="22.0" lengthAdjust="spacingAndGlyphs">Sweeping Phase: 0 °</text>
<text x="521.2" y="141.90" font-family="Liberation Sans" font-size="3.5" text-rendering="geometricPrecision"  fill="#111" textLength="7.5" lengthAdjust="spacingAndGlyphs">Unit: m</text>
<text x="521.2" y="144.90" font-family="Liberation Sans" font-size="3.5" text-rendering="geometricPrecision"  fill="#111" textLength="14.7" lengthAdjust="spacingAndGlyphs">Max: 0.007605</text>
<text x="521.2" y="147.90" font-family="Liberation Sans" font-size="3.5" text-rendering="geometricPrecision"  fill="#111" textLength="7.1" lengthAdjust="spacingAndGlyphs">Min: 0</text>
<rect x="521.00" y="152.50" width="3.0" height="3.38" fill="#e10000"/>
<rect x="521.00" y="155.83" width="3.0" height="3.38" fill="#f58700"/>
<rect x="521.00" y="159.17" width="3.0" height="3.38" fill="#f0e100"/>
<rect x="521.00" y="162.50" width="3.0" height="3.38" fill="#a0e100"/>
<rect x="521.00" y="165.83" width="3.0" height="3.38" fill="#00cd00"/>
<rect x="521.00" y="169.17" width="3.0" height="3.38" fill="#00d796"/>
<rect x="521.00" y="172.50" width="3.0" height="3.38" fill="#00e6e6"/>
<rect x="521.00" y="175.83" width="3.0" height="3.38" fill="#0096eb"/>
<rect x="521.00" y="179.17" width="3.0" height="3.38" fill="#0000d7"/>
<text x="525.50" y="153.50" font-family="Liberation Sans" font-size="3.0" font-weight="bold" text-rendering="geometricPrecision" fill="#505050" textLength="9.8" lengthAdjust="spacingAndGlyphs">0.09999</text>
<text x="525.50" y="156.83" font-family="Liberation Sans" font-size="3.0" font-weight="bold" text-rendering="geometricPrecision" fill="#505050" textLength="9.8" lengthAdjust="spacingAndGlyphs">0.08899</text>
<text x="525.50" y="160.17" font-family="Liberation Sans" font-size="3.0" font-weight="bold" text-rendering="geometricPrecision" fill="#505050" textLength="9.8" lengthAdjust="spacingAndGlyphs">0.07799</text>
<text x="525.50" y="163.50" font-family="Liberation Sans" font-size="3.0" font-weight="bold" text-rendering="geometricPrecision" fill="#505050" textLength="9.8" lengthAdjust="spacingAndGlyphs">0.06699</text>
<text x="525.50" y="166.83" font-family="Liberation Sans" font-size="3.0" font-weight="bold" text-rendering="geometricPrecision" fill="#505050" textLength="9.8" lengthAdjust="spacingAndGlyphs">0.05599</text>
<text x="525.50" y="170.17" font-family="Liberation Sans" font-size="3.0" font-weight="bold" text-rendering="geometricPrecision" fill="#505050" textLength="9.8" lengthAdjust="spacingAndGlyphs">0.04499</text>
<text x="525.50" y="173.50" font-family="Liberation Sans" font-size="3.0" font-weight="bold" text-rendering="geometricPrecision" fill="#505050" textLength="9.8" lengthAdjust="spacingAndGlyphs">0.03399</text>
<text x="525.50" y="176.83" font-family="Liberation Sans" font-size="3.0" font-weight="bold" text-rendering="geometricPrecision" fill="#505050" textLength="9.8" lengthAdjust="spacingAndGlyphs">0.02299</text>
<text x="525.50" y="180.17" font-family="Liberation Sans" font-size="3.0" font-weight="bold" text-rendering="geometricPrecision" fill="#505050" textLength="9.8" lengthAdjust="spacingAndGlyphs">0.01199</text>
<text x="525.50" y="183.50" font-family="Liberation Sans" font-size="3.0" font-weight="bold" text-rendering="geometricPrecision" fill="#505050" textLength="1.7" lengthAdjust="spacingAndGlyphs">0</text>
<text transform="translate(561.40,134.00) scale(1.0040,1.0)" font-family="Liberation Serif" font-weight="bold" font-size="7.6" fill="#111">429 Hz (FE-With Point Mass)</text>
<line x1="558.0" y1="153.30" x2="680.0" y2="153.30" stroke="#dcdcdc" stroke-width="1.3"/>
<path d="M558.00,157.40 C559.55,156.72 563.80,154.62 567.30,153.30 C570.80,151.98 575.08,150.35 579.00,149.50 C582.92,148.65 586.80,148.07 590.80,148.20 C594.80,148.33 598.75,149.37 603.00,150.30 C607.25,151.23 611.80,152.52 616.30,153.80 C620.80,155.08 625.45,157.03 630.00,158.00 C634.55,158.97 639.10,159.60 643.60,159.60 C648.10,159.60 652.60,158.77 657.00,158.00 C661.40,157.23 665.83,155.73 670.00,155.00 C674.17,154.27 680.00,153.83 682.00,153.60" fill="none" stroke="url(#g2)" stroke-width="1.7" stroke-linecap="butt"/>
<text x="521.2" y="187.80" font-family="Liberation Sans" font-size="3.4" text-rendering="geometricPrecision" font-weight="bold" fill="#000" textLength="32.5" lengthAdjust="spacingAndGlyphs">B: Harmonic Response 6Ft. 5</text>
<text x="521.2" y="190.88" font-family="Liberation Sans" font-size="3.5" text-rendering="geometricPrecision"  fill="#111" textLength="19.0" lengthAdjust="spacingAndGlyphs">Total Deformation</text>
<text x="521.2" y="193.96" font-family="Liberation Sans" font-size="3.5" text-rendering="geometricPrecision"  fill="#111" textLength="25.0" lengthAdjust="spacingAndGlyphs">Type: Total Deformation</text>
<text x="521.2" y="197.04" font-family="Liberation Sans" font-size="3.5" text-rendering="geometricPrecision"  fill="#111" textLength="18.6" lengthAdjust="spacingAndGlyphs">Frequency: 27 Hz</text>
<text x="521.2" y="200.12" font-family="Liberation Sans" font-size="3.5" text-rendering="geometricPrecision"  fill="#111" textLength="22.0" lengthAdjust="spacingAndGlyphs">Sweeping Phase: 0 °</text>
<text x="521.2" y="203.20" font-family="Liberation Sans" font-size="3.5" text-rendering="geometricPrecision"  fill="#111" textLength="7.5" lengthAdjust="spacingAndGlyphs">Unit: m</text>
<text x="521.2" y="206.28" font-family="Liberation Sans" font-size="3.5" text-rendering="geometricPrecision"  fill="#111" textLength="14.7" lengthAdjust="spacingAndGlyphs">Max: 0.03398</text>
<text x="521.2" y="209.36" font-family="Liberation Sans" font-size="3.5" text-rendering="geometricPrecision"  fill="#111" textLength="7.1" lengthAdjust="spacingAndGlyphs">Min: 0</text>
<rect x="521.00" y="214.50" width="3.0" height="3.31" fill="#e10000"/>
<rect x="521.00" y="217.76" width="3.0" height="3.31" fill="#f58700"/>
<rect x="521.00" y="221.01" width="3.0" height="3.31" fill="#f0e100"/>
<rect x="521.00" y="224.27" width="3.0" height="3.31" fill="#a0e100"/>
<rect x="521.00" y="227.52" width="3.0" height="3.31" fill="#00cd00"/>
<rect x="521.00" y="230.78" width="3.0" height="3.31" fill="#00d796"/>
<rect x="521.00" y="234.03" width="3.0" height="3.31" fill="#00e6e6"/>
<rect x="521.00" y="237.29" width="3.0" height="3.31" fill="#0096eb"/>
<rect x="521.00" y="240.54" width="3.0" height="3.31" fill="#0000d7"/>
<text x="525.50" y="215.50" font-family="Liberation Sans" font-size="3.0" font-weight="bold" text-rendering="geometricPrecision" fill="#505050" textLength="9.8" lengthAdjust="spacingAndGlyphs">0.09999</text>
<text x="525.50" y="218.76" font-family="Liberation Sans" font-size="3.0" font-weight="bold" text-rendering="geometricPrecision" fill="#505050" textLength="9.8" lengthAdjust="spacingAndGlyphs">0.08899</text>
<text x="525.50" y="222.01" font-family="Liberation Sans" font-size="3.0" font-weight="bold" text-rendering="geometricPrecision" fill="#505050" textLength="9.8" lengthAdjust="spacingAndGlyphs">0.07799</text>
<text x="525.50" y="225.27" font-family="Liberation Sans" font-size="3.0" font-weight="bold" text-rendering="geometricPrecision" fill="#505050" textLength="9.8" lengthAdjust="spacingAndGlyphs">0.06699</text>
<text x="525.50" y="228.52" font-family="Liberation Sans" font-size="3.0" font-weight="bold" text-rendering="geometricPrecision" fill="#505050" textLength="9.8" lengthAdjust="spacingAndGlyphs">0.05599</text>
<text x="525.50" y="231.78" font-family="Liberation Sans" font-size="3.0" font-weight="bold" text-rendering="geometricPrecision" fill="#505050" textLength="9.8" lengthAdjust="spacingAndGlyphs">0.04499</text>
<text x="525.50" y="235.03" font-family="Liberation Sans" font-size="3.0" font-weight="bold" text-rendering="geometricPrecision" fill="#505050" textLength="9.8" lengthAdjust="spacingAndGlyphs">0.03399</text>
<text x="525.50" y="238.29" font-family="Liberation Sans" font-size="3.0" font-weight="bold" text-rendering="geometricPrecision" fill="#505050" textLength="9.8" lengthAdjust="spacingAndGlyphs">0.02299</text>
<text x="525.50" y="241.54" font-family="Liberation Sans" font-size="3.0" font-weight="bold" text-rendering="geometricPrecision" fill="#505050" textLength="9.8" lengthAdjust="spacingAndGlyphs">0.01199</text>
<text x="525.50" y="244.80" font-family="Liberation Sans" font-size="3.0" font-weight="bold" text-rendering="geometricPrecision" fill="#505050" textLength="1.7" lengthAdjust="spacingAndGlyphs">0</text>
<text transform="translate(557.80,194.40) scale(1.0090,1.0)" font-family="Liberation Serif" font-weight="bold" font-size="7.6" fill="#111">27 Hz (FE-Without Point Mass)</text>
<line x1="552.0" y1="215.30" x2="680.0" y2="215.30" stroke="#dcdcdc" stroke-width="1.3"/>
<path d="M552.10,221.80 C555.92,221.55 567.02,220.82 575.00,220.30 C582.98,219.78 591.67,219.20 600.00,218.70 C608.33,218.20 616.67,217.72 625.00,217.30 C633.33,216.88 640.67,216.52 650.00,216.20 C659.33,215.88 675.83,215.53 681.00,215.40" fill="none" stroke="url(#g3)" stroke-width="1.7" stroke-linecap="butt"/>
<text x="523.0" y="252.40" font-family="Liberation Sans" font-size="3.4" text-rendering="geometricPrecision" font-weight="bold" fill="#000" textLength="32.5" lengthAdjust="spacingAndGlyphs">B: Harmonic Response 6Ft. 5</text>
<text x="523.0" y="255.48" font-family="Liberation Sans" font-size="3.5" text-rendering="geometricPrecision"  fill="#111" textLength="19.0" lengthAdjust="spacingAndGlyphs">Total Deformation</text>
<text x="523.0" y="258.56" font-family="Liberation Sans" font-size="3.5" text-rendering="geometricPrecision"  fill="#111" textLength="25.0" lengthAdjust="spacingAndGlyphs">Type: Total Deformation</text>
<text x="523.0" y="261.64" font-family="Liberation Sans" font-size="3.5" text-rendering="geometricPrecision"  fill="#111" textLength="18.6" lengthAdjust="spacingAndGlyphs">Frequency: 170 Hz</text>
<text x="523.0" y="264.72" font-family="Liberation Sans" font-size="3.5" text-rendering="geometricPrecision"  fill="#111" textLength="22.0" lengthAdjust="spacingAndGlyphs">Sweeping Phase: 0 °</text>
<text x="523.0" y="267.80" font-family="Liberation Sans" font-size="3.5" text-rendering="geometricPrecision"  fill="#111" textLength="7.5" lengthAdjust="spacingAndGlyphs">Unit: m</text>
<text x="523.0" y="270.88" font-family="Liberation Sans" font-size="3.5" text-rendering="geometricPrecision"  fill="#111" textLength="14.7" lengthAdjust="spacingAndGlyphs">Max: 0.02029</text>
<text x="523.0" y="273.96" font-family="Liberation Sans" font-size="3.5" text-rendering="geometricPrecision"  fill="#111" textLength="7.1" lengthAdjust="spacingAndGlyphs">Min: 0</text>
<rect x="523.00" y="278.90" width="3.0" height="3.49" fill="#e10000"/>
<rect x="523.00" y="282.34" width="3.0" height="3.49" fill="#f58700"/>
<rect x="523.00" y="285.79" width="3.0" height="3.49" fill="#f0e100"/>
<rect x="523.00" y="289.23" width="3.0" height="3.49" fill="#a0e100"/>
<rect x="523.00" y="292.68" width="3.0" height="3.49" fill="#00cd00"/>
<rect x="523.00" y="296.12" width="3.0" height="3.49" fill="#00d796"/>
<rect x="523.00" y="299.57" width="3.0" height="3.49" fill="#00e6e6"/>
<rect x="523.00" y="303.01" width="3.0" height="3.49" fill="#0096eb"/>
<rect x="523.00" y="306.46" width="3.0" height="3.49" fill="#0000d7"/>
<text x="527.50" y="279.90" font-family="Liberation Sans" font-size="3.0" font-weight="bold" text-rendering="geometricPrecision" fill="#505050" textLength="9.8" lengthAdjust="spacingAndGlyphs">0.09999</text>
<text x="527.50" y="283.34" font-family="Liberation Sans" font-size="3.0" font-weight="bold" text-rendering="geometricPrecision" fill="#505050" textLength="9.8" lengthAdjust="spacingAndGlyphs">0.08899</text>
<text x="527.50" y="286.79" font-family="Liberation Sans" font-size="3.0" font-weight="bold" text-rendering="geometricPrecision" fill="#505050" textLength="9.8" lengthAdjust="spacingAndGlyphs">0.07799</text>
<text x="527.50" y="290.23" font-family="Liberation Sans" font-size="3.0" font-weight="bold" text-rendering="geometricPrecision" fill="#505050" textLength="9.8" lengthAdjust="spacingAndGlyphs">0.06699</text>
<text x="527.50" y="293.68" font-family="Liberation Sans" font-size="3.0" font-weight="bold" text-rendering="geometricPrecision" fill="#505050" textLength="9.8" lengthAdjust="spacingAndGlyphs">0.05599</text>
<text x="527.50" y="297.12" font-family="Liberation Sans" font-size="3.0" font-weight="bold" text-rendering="geometricPrecision" fill="#505050" textLength="9.8" lengthAdjust="spacingAndGlyphs">0.04499</text>
<text x="527.50" y="300.57" font-family="Liberation Sans" font-size="3.0" font-weight="bold" text-rendering="geometricPrecision" fill="#505050" textLength="9.8" lengthAdjust="spacingAndGlyphs">0.03399</text>
<text x="527.50" y="304.01" font-family="Liberation Sans" font-size="3.0" font-weight="bold" text-rendering="geometricPrecision" fill="#505050" textLength="9.8" lengthAdjust="spacingAndGlyphs">0.02299</text>
<text x="527.50" y="307.46" font-family="Liberation Sans" font-size="3.0" font-weight="bold" text-rendering="geometricPrecision" fill="#505050" textLength="9.8" lengthAdjust="spacingAndGlyphs">0.01199</text>
<text x="527.50" y="310.90" font-family="Liberation Sans" font-size="3.0" font-weight="bold" text-rendering="geometricPrecision" fill="#505050" textLength="1.7" lengthAdjust="spacingAndGlyphs">0</text>
<text transform="translate(561.40,257.10) scale(1.0130,1.0)" font-family="Liberation Serif" font-weight="bold" font-size="7.6" fill="#111">170 Hz (FE-Without Point Mass)</text>
<line x1="554.0" y1="280.00" x2="680.0" y2="280.00" stroke="#dcdcdc" stroke-width="1.3"/>
<path d="M554.10,273.60 C556.25,274.13 562.45,275.70 567.00,276.80 C571.55,277.90 575.90,279.13 581.40,280.20 C586.90,281.27 593.57,282.50 600.00,283.20 C606.43,283.90 613.33,284.33 620.00,284.40 C626.67,284.47 634.17,284.07 640.00,283.60 C645.83,283.13 650.33,282.15 655.00,281.60 C659.67,281.05 663.52,280.60 668.00,280.30 C672.48,280.00 679.58,279.88 681.90,279.80" fill="none" stroke="url(#g4)" stroke-width="1.7" stroke-linecap="butt"/>
<text x="522.2" y="317.00" font-family="Liberation Sans" font-size="3.4" text-rendering="geometricPrecision" font-weight="bold" fill="#000" textLength="32.5" lengthAdjust="spacingAndGlyphs">B: Harmonic Response 6Ft. 5</text>
<text x="522.2" y="320.06" font-family="Liberation Sans" font-size="3.5" text-rendering="geometricPrecision"  fill="#111" textLength="19.0" lengthAdjust="spacingAndGlyphs">Total Deformation</text>
<text x="522.2" y="323.12" font-family="Liberation Sans" font-size="3.5" text-rendering="geometricPrecision"  fill="#111" textLength="25.0" lengthAdjust="spacingAndGlyphs">Type: Total Deformation</text>
<text x="522.2" y="326.18" font-family="Liberation Sans" font-size="3.5" text-rendering="geometricPrecision"  fill="#111" textLength="18.6" lengthAdjust="spacingAndGlyphs">Frequency: 475 Hz</text>
<text x="522.2" y="329.24" font-family="Liberation Sans" font-size="3.5" text-rendering="geometricPrecision"  fill="#111" textLength="22.0" lengthAdjust="spacingAndGlyphs">Sweeping Phase: 0 °</text>
<text x="522.2" y="332.30" font-family="Liberation Sans" font-size="3.5" text-rendering="geometricPrecision"  fill="#111" textLength="7.5" lengthAdjust="spacingAndGlyphs">Unit: m</text>
<text x="522.2" y="335.36" font-family="Liberation Sans" font-size="3.5" text-rendering="geometricPrecision"  fill="#111" textLength="14.7" lengthAdjust="spacingAndGlyphs">Max: 0.01097</text>
<text x="522.2" y="338.42" font-family="Liberation Sans" font-size="3.5" text-rendering="geometricPrecision"  fill="#111" textLength="7.1" lengthAdjust="spacingAndGlyphs">Min: 0</text>
<rect x="522.20" y="344.10" width="3.0" height="3.44" fill="#e10000"/>
<rect x="522.20" y="347.49" width="3.0" height="3.44" fill="#f58700"/>
<rect x="522.20" y="350.88" width="3.0" height="3.44" fill="#f0e100"/>
<rect x="522.20" y="354.27" width="3.0" height="3.44" fill="#a0e100"/>
<rect x="522.20" y="357.66" width="3.0" height="3.44" fill="#00cd00"/>
<rect x="522.20" y="361.04" width="3.0" height="3.44" fill="#00d796"/>
<rect x="522.20" y="364.43" width="3.0" height="3.44" fill="#00e6e6"/>
<rect x="522.20" y="367.82" width="3.0" height="3.44" fill="#0096eb"/>
<rect x="522.20" y="371.21" width="3.0" height="3.44" fill="#0000d7"/>
<text x="526.70" y="345.10" font-family="Liberation Sans" font-size="3.0" font-weight="bold" text-rendering="geometricPrecision" fill="#505050" textLength="9.8" lengthAdjust="spacingAndGlyphs">0.09999</text>
<text x="526.70" y="348.49" font-family="Liberation Sans" font-size="3.0" font-weight="bold" text-rendering="geometricPrecision" fill="#505050" textLength="9.8" lengthAdjust="spacingAndGlyphs">0.08899</text>
<text x="526.70" y="351.88" font-family="Liberation Sans" font-size="3.0" font-weight="bold" text-rendering="geometricPrecision" fill="#505050" textLength="9.8" lengthAdjust="spacingAndGlyphs">0.07799</text>
<text x="526.70" y="355.27" font-family="Liberation Sans" font-size="3.0" font-weight="bold" text-rendering="geometricPrecision" fill="#505050" textLength="9.8" lengthAdjust="spacingAndGlyphs">0.06699</text>
<text x="526.70" y="358.66" font-family="Liberation Sans" font-size="3.0" font-weight="bold" text-rendering="geometricPrecision" fill="#505050" textLength="9.8" lengthAdjust="spacingAndGlyphs">0.05599</text>
<text x="526.70" y="362.04" font-family="Liberation Sans" font-size="3.0" font-weight="bold" text-rendering="geometricPrecision" fill="#505050" textLength="9.8" lengthAdjust="spacingAndGlyphs">0.04499</text>
<text x="526.70" y="365.43" font-family="Liberation Sans" font-size="3.0" font-weight="bold" text-rendering="geometricPrecision" fill="#505050" textLength="9.8" lengthAdjust="spacingAndGlyphs">0.03399</text>
<text x="526.70" y="368.82" font-family="Liberation Sans" font-size="3.0" font-weight="bold" text-rendering="geometricPrecision" fill="#505050" textLength="9.8" lengthAdjust="spacingAndGlyphs">0.02299</text>
<text x="526.70" y="372.21" font-family="Liberation Sans" font-size="3.0" font-weight="bold" text-rendering="geometricPrecision" fill="#505050" textLength="9.8" lengthAdjust="spacingAndGlyphs">0.01199</text>
<text x="526.70" y="375.60" font-family="Liberation Sans" font-size="3.0" font-weight="bold" text-rendering="geometricPrecision" fill="#505050" textLength="1.7" lengthAdjust="spacingAndGlyphs">0</text>
<text transform="translate(566.00,320.20) scale(1.0160,1.0)" font-family="Liberation Serif" font-weight="bold" font-size="7.6" fill="#111">475 Hz (FE-Without Point Mass)</text>
<line x1="553.5" y1="344.40" x2="680.0" y2="344.40" stroke="#dcdcdc" stroke-width="1.3"/>
<path d="M553.10,350.30 C554.42,349.78 558.12,348.22 561.00,347.20 C563.88,346.18 567.07,345.17 570.40,344.20 C573.73,343.23 577.25,342.05 581.00,341.40 C584.75,340.75 588.90,340.27 592.90,340.30 C596.90,340.33 601.08,340.95 605.00,341.60 C608.92,342.25 612.23,343.17 616.40,344.20 C620.57,345.23 625.30,346.95 630.00,347.80 C634.70,348.65 639.77,349.30 644.60,349.30 C649.43,349.30 654.43,348.52 659.00,347.80 C663.57,347.08 668.17,345.60 672.00,345.00 C675.83,344.40 680.33,344.33 682.00,344.20" fill="none" stroke="url(#g5)" stroke-width="1.7" stroke-linecap="butt"/>
</svg>
</body></html>
